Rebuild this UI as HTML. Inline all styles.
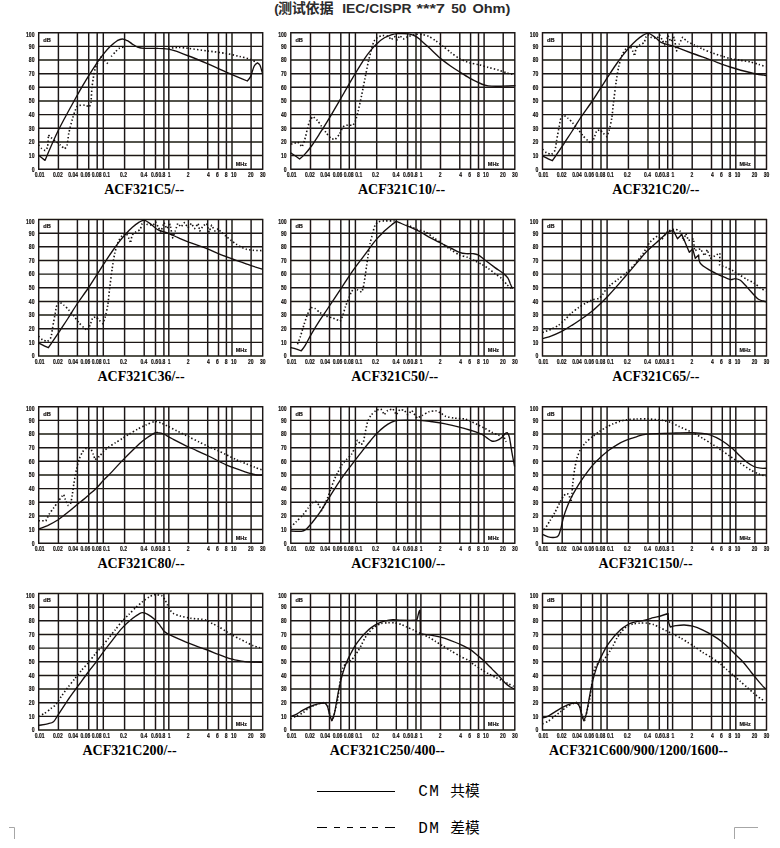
<!DOCTYPE html>
<html><head><meta charset="utf-8"><title>ACF321 insertion loss</title>
<style>
html,body{margin:0;padding:0;background:#fff;}
body{width:780px;height:848px;overflow:hidden;font-family:"Liberation Sans",sans-serif;}
svg{position:absolute;left:0;top:0;display:block}
.ax{font-family:"Liberation Sans",sans-serif;font-size:6.5px;fill:#15110f;font-weight:bold;stroke:#15110f;stroke-width:.18px}
.tt{font-family:"Liberation Serif",serif;font-weight:bold;font-size:14px;fill:#000}
.hd{font-family:"Liberation Sans","Noto Sans CJK SC",sans-serif;font-weight:bold;font-size:13.3px;fill:#2b2b2b}
.lg{font-family:"Liberation Mono","Noto Sans CJK SC",monospace;font-size:14px;fill:#000}
</style></head><body>
<svg width="780" height="848" viewBox="0 0 780 848">
<defs><filter id="b" x="-2%" y="-2%" width="104%" height="104%"><feGaussianBlur stdDeviation="0.5"/></filter></defs>
<rect width="780" height="848" fill="#fff"/>

<g filter="url(#b)">
<path d="M38.10 32.70H263.30M38.10 46.35H263.30M38.10 60.00H263.30M38.10 73.65H263.30M38.10 87.30H263.30M38.10 100.95H263.30M38.10 114.60H263.30M38.10 128.25H263.30M38.10 141.90H263.30M38.10 155.55H263.30M38.10 169.20H263.30M38.70 32.10V169.80M58.40 32.10V169.80M77.40 32.10V169.80M88.70 32.10V169.80M97.20 32.10V169.80M103.30 32.10V169.80M124.60 32.10V169.80M144.20 32.10V169.80M155.50 32.10V169.80M163.90 32.10V169.80M168.80 32.10V169.80M188.40 32.10V169.80M207.70 32.10V169.80M218.50 32.10V169.80M226.40 32.10V169.80M232.00 32.10V169.80M251.10 32.10V169.80M262.70 32.10V169.80" stroke="#1c1816" stroke-width="1.45" fill="none"/>
<text class="ax" text-anchor="end" transform="translate(34.5 36.7) scale(.78 1)">100</text>
<text class="ax" text-anchor="end" transform="translate(34.5 48.6) scale(.78 1)">90</text>
<text class="ax" text-anchor="end" transform="translate(34.5 62.3) scale(.78 1)">80</text>
<text class="ax" text-anchor="end" transform="translate(34.5 76.0) scale(.78 1)">70</text>
<text class="ax" text-anchor="end" transform="translate(34.5 89.6) scale(.78 1)">60</text>
<text class="ax" text-anchor="end" transform="translate(34.5 103.2) scale(.78 1)">50</text>
<text class="ax" text-anchor="end" transform="translate(34.5 116.9) scale(.78 1)">40</text>
<text class="ax" text-anchor="end" transform="translate(34.5 130.6) scale(.78 1)">30</text>
<text class="ax" text-anchor="end" transform="translate(34.5 144.2) scale(.78 1)">20</text>
<text class="ax" text-anchor="end" transform="translate(34.5 157.9) scale(.78 1)">10</text>
<text class="ax" text-anchor="end" transform="translate(34.5 171.5) scale(.78 1)">0</text>
<text class="ax" text-anchor="middle" transform="translate(39.6 176.7) scale(.77 1)">0.01</text>
<text class="ax" text-anchor="middle" transform="translate(57.8 176.7) scale(.77 1)">0.02</text>
<text class="ax" text-anchor="middle" transform="translate(73.2 176.7) scale(.77 1)">0.04</text>
<text class="ax" text-anchor="middle" transform="translate(85.4 176.7) scale(.77 1)">0.06</text>
<text class="ax" text-anchor="middle" transform="translate(96.6 176.7) scale(.77 1)">0.08</text>
<text class="ax" text-anchor="middle" transform="translate(106.6 176.7) scale(.77 1)">0.1</text>
<text class="ax" text-anchor="middle" transform="translate(123.5 176.7) scale(.77 1)">0.2</text>
<text class="ax" text-anchor="middle" transform="translate(143.9 176.7) scale(.77 1)">0.4</text>
<text class="ax" text-anchor="middle" transform="translate(154.6 176.7) scale(.77 1)">0.6</text>
<text class="ax" text-anchor="middle" transform="translate(161.9 176.7) scale(.77 1)">0.8</text>
<text class="ax" text-anchor="middle" transform="translate(169.1 176.7) scale(.77 1)">1</text>
<text class="ax" text-anchor="middle" transform="translate(188.1 176.7) scale(.77 1)">2</text>
<text class="ax" text-anchor="middle" transform="translate(208.5 176.7) scale(.77 1)">4</text>
<text class="ax" text-anchor="middle" transform="translate(217.5 176.7) scale(.77 1)">6</text>
<text class="ax" text-anchor="middle" transform="translate(226.2 176.7) scale(.77 1)">8</text>
<text class="ax" text-anchor="middle" transform="translate(233.8 176.7) scale(.77 1)">10</text>
<text class="ax" text-anchor="middle" transform="translate(250.8 176.7) scale(.77 1)">20</text>
<text class="ax" text-anchor="middle" transform="translate(262.8 176.7) scale(.77 1)">30</text>
<text class="ax" style="font-size:5.8px" transform="translate(43.3 41.5) scale(.98 1)">dB</text>
<text class="ax" style="font-size:6px" transform="translate(235.7 165.5) scale(.92 1)">MHz</text>
<path d="M38.6 155.3 C39.6 156.1 45.0 160.4 45.0 160.4 C45.0 160.4 53.6 140.0 58.6 129.8 C63.6 119.7 71.7 105.3 76.4 96.7 C81.2 88.2 84.9 81.9 88.3 76.4 C91.7 70.8 95.2 65.6 97.6 61.9 C100.1 58.3 101.6 56.3 103.6 53.8 C105.6 51.3 108.2 48.4 110.4 46.3 C112.6 44.2 115.3 41.9 117.2 40.7 C119.1 39.6 120.6 39.0 122.3 39.0 C123.9 39.0 125.7 39.9 127.4 40.7 C129.0 41.5 130.8 43.1 132.4 44.1 C134.1 45.1 135.6 46.3 137.5 47.0 C139.4 47.7 141.0 48.2 144.3 48.4 C147.6 48.6 154.3 48.2 158.2 48.4 C162.0 48.5 165.7 48.8 168.4 49.2 C171.1 49.6 171.9 49.8 175.2 50.9 C178.4 52.0 183.6 54.0 188.7 56.0 C193.9 58.0 201.4 61.1 207.4 63.6 C213.4 66.2 219.7 69.4 226.1 72.1 C232.5 74.9 247.3 81.0 247.3 81.0 C247.3 81.0 249.6 78.7 250.7 76.4 C251.8 74.0 253.0 68.4 254.1 66.2 C255.2 64.0 257.5 62.8 257.5 62.8 C257.5 62.8 259.2 63.6 260.0 65.3 C260.8 67.1 262.2 72.5 262.6 73.8" stroke="#15110f" stroke-width="1.35" fill="none" stroke-linejoin="round"/>
<path d="M38.6 145.1 C38.9 145.5 40.9 147.9 41.6 148.5 C42.4 149.2 45.0 150.5 45.0 150.5 C45.0 150.5 47.2 148.7 47.6 146.8 C48.0 144.9 48.4 134.9 48.4 134.9 C48.4 134.9 50.2 136.8 51.0 137.5 C51.8 138.2 54.1 140.0 55.2 140.9 C56.3 141.8 59.2 144.2 60.3 145.1 C61.4 146.1 64.6 148.8 64.6 148.8 C64.6 148.8 66.6 147.0 67.1 145.1 C67.6 143.2 68.2 136.3 68.8 133.2 C69.4 130.2 71.4 122.5 72.2 119.7 C73.0 116.8 74.9 111.1 75.6 109.5 C76.3 107.8 77.0 106.2 78.1 105.7 C79.3 105.2 83.6 105.1 84.9 105.2 C86.2 105.4 89.2 106.9 89.2 106.9 C89.2 106.9 90.5 105.0 90.9 102.7 C91.2 100.3 91.7 90.7 92.0 87.4 C92.4 84.1 93.3 77.9 93.7 75.5 C94.2 73.2 94.8 69.8 95.4 67.9 C96.1 66.0 98.6 60.8 99.3 59.4 C100.1 58.0 101.6 56.4 101.9 56.0" stroke="#15110f" stroke-width="1.6" fill="none" stroke-dasharray="1.4 2.2" stroke-linejoin="round"/>
<path d="M104.4 60.2 L107.8 63.6" stroke="#15110f" stroke-width="1.6" fill="none" stroke-dasharray="1.4 2.2" stroke-linejoin="round"/>
<path d="M111.2 56.5 C111.7 55.9 114.5 52.8 115.5 51.8 C116.5 50.7 118.7 48.6 119.7 48.0 C120.7 47.5 123.4 47.1 124.0 47.0" stroke="#15110f" stroke-width="1.6" fill="none" stroke-dasharray="1.4 2.2" stroke-linejoin="round"/>
<path d="M168.4 48.4 C169.6 48.3 176.1 47.5 178.6 47.5 C181.0 47.5 185.3 48.0 188.7 48.4 C192.2 48.8 202.9 50.3 207.4 50.9 C211.9 51.5 222.2 52.8 226.1 53.5 C229.9 54.1 236.8 55.8 239.7 56.5 C242.5 57.2 247.9 58.4 249.8 59.1 C251.8 59.7 255.1 61.6 255.8 61.9" stroke="#15110f" stroke-width="1.6" fill="none" stroke-dasharray="1.4 2.2" stroke-linejoin="round"/>
</g>
<text class="tt" x="104.2" y="193.8">ACF321C5/--</text>
<g filter="url(#b)">
<path d="M290.20 32.70H515.40M290.20 46.35H515.40M290.20 60.00H515.40M290.20 73.65H515.40M290.20 87.30H515.40M290.20 100.95H515.40M290.20 114.60H515.40M290.20 128.25H515.40M290.20 141.90H515.40M290.20 155.55H515.40M290.20 169.20H515.40M290.80 32.10V169.80M310.50 32.10V169.80M329.50 32.10V169.80M340.80 32.10V169.80M349.30 32.10V169.80M355.40 32.10V169.80M376.70 32.10V169.80M396.30 32.10V169.80M407.60 32.10V169.80M416.00 32.10V169.80M420.90 32.10V169.80M440.50 32.10V169.80M459.80 32.10V169.80M470.60 32.10V169.80M478.50 32.10V169.80M484.10 32.10V169.80M503.20 32.10V169.80M514.80 32.10V169.80" stroke="#1c1816" stroke-width="1.45" fill="none"/>
<text class="ax" text-anchor="end" transform="translate(286.6 36.7) scale(.78 1)">100</text>
<text class="ax" text-anchor="end" transform="translate(286.6 48.6) scale(.78 1)">90</text>
<text class="ax" text-anchor="end" transform="translate(286.6 62.3) scale(.78 1)">80</text>
<text class="ax" text-anchor="end" transform="translate(286.6 76.0) scale(.78 1)">70</text>
<text class="ax" text-anchor="end" transform="translate(286.6 89.6) scale(.78 1)">60</text>
<text class="ax" text-anchor="end" transform="translate(286.6 103.2) scale(.78 1)">50</text>
<text class="ax" text-anchor="end" transform="translate(286.6 116.9) scale(.78 1)">40</text>
<text class="ax" text-anchor="end" transform="translate(286.6 130.6) scale(.78 1)">30</text>
<text class="ax" text-anchor="end" transform="translate(286.6 144.2) scale(.78 1)">20</text>
<text class="ax" text-anchor="end" transform="translate(286.6 157.9) scale(.78 1)">10</text>
<text class="ax" text-anchor="end" transform="translate(286.6 171.5) scale(.78 1)">0</text>
<text class="ax" text-anchor="middle" transform="translate(291.7 176.7) scale(.77 1)">0.01</text>
<text class="ax" text-anchor="middle" transform="translate(309.9 176.7) scale(.77 1)">0.02</text>
<text class="ax" text-anchor="middle" transform="translate(325.2 176.7) scale(.77 1)">0.04</text>
<text class="ax" text-anchor="middle" transform="translate(337.5 176.7) scale(.77 1)">0.06</text>
<text class="ax" text-anchor="middle" transform="translate(348.7 176.7) scale(.77 1)">0.08</text>
<text class="ax" text-anchor="middle" transform="translate(358.7 176.7) scale(.77 1)">0.1</text>
<text class="ax" text-anchor="middle" transform="translate(375.6 176.7) scale(.77 1)">0.2</text>
<text class="ax" text-anchor="middle" transform="translate(396.0 176.7) scale(.77 1)">0.4</text>
<text class="ax" text-anchor="middle" transform="translate(406.6 176.7) scale(.77 1)">0.6</text>
<text class="ax" text-anchor="middle" transform="translate(414.1 176.7) scale(.77 1)">0.8</text>
<text class="ax" text-anchor="middle" transform="translate(421.2 176.7) scale(.77 1)">1</text>
<text class="ax" text-anchor="middle" transform="translate(440.2 176.7) scale(.77 1)">2</text>
<text class="ax" text-anchor="middle" transform="translate(460.6 176.7) scale(.77 1)">4</text>
<text class="ax" text-anchor="middle" transform="translate(469.6 176.7) scale(.77 1)">6</text>
<text class="ax" text-anchor="middle" transform="translate(478.3 176.7) scale(.77 1)">8</text>
<text class="ax" text-anchor="middle" transform="translate(485.9 176.7) scale(.77 1)">10</text>
<text class="ax" text-anchor="middle" transform="translate(502.9 176.7) scale(.77 1)">20</text>
<text class="ax" text-anchor="middle" transform="translate(514.9 176.7) scale(.77 1)">30</text>
<text class="ax" style="font-size:5.8px" transform="translate(295.4 41.5) scale(.98 1)">dB</text>
<text class="ax" style="font-size:6px" transform="translate(487.8 165.5) scale(.92 1)">MHz</text>
<path d="M290.6 152.8 C292.0 153.8 299.6 159.0 299.6 159.0 C299.6 159.0 302.8 156.5 304.7 154.4 C306.6 152.4 309.0 149.4 311.5 146.0 C313.9 142.6 317.2 137.4 319.9 133.2 C322.7 129.0 325.2 125.1 328.4 119.7 C331.7 114.2 336.9 105.1 340.3 99.3 C343.7 93.4 347.2 87.4 349.6 83.2 C352.1 79.0 353.3 76.8 355.6 73.0 C357.9 69.2 361.6 63.1 364.1 59.4 C366.5 55.7 368.7 52.7 370.9 50.1 C373.0 47.4 375.5 44.9 377.7 42.9 C379.8 41.0 382.3 39.1 384.4 37.8 C386.6 36.5 389.1 35.5 391.2 34.8 C393.4 34.1 395.3 33.7 398.0 33.6 C400.8 33.5 405.7 33.5 408.5 33.9 C411.2 34.3 413.4 35.2 415.3 36.1 C417.2 37.1 418.2 38.1 420.4 39.9 C422.5 41.7 425.6 44.5 428.9 47.5 C432.1 50.5 437.2 55.6 440.7 58.6 C444.3 61.5 447.9 64.1 450.9 66.2 C453.9 68.3 456.4 69.9 459.4 71.8 C462.4 73.7 466.6 76.4 469.6 78.1 C472.6 79.8 475.6 81.2 478.1 82.3 C480.5 83.5 482.7 84.6 484.9 85.2 C487.0 85.8 488.9 86.1 491.7 86.2 C494.4 86.4 498.0 86.3 501.8 86.2 C505.6 86.1 513.2 85.8 515.4 85.7" stroke="#15110f" stroke-width="1.35" fill="none" stroke-linejoin="round"/>
<path d="M291.1 144.3 C291.9 144.0 297.9 142.1 297.9 142.1 C297.9 142.1 302.1 146.8 302.1 146.8 C302.1 146.8 304.1 142.1 304.7 140.0 C305.3 138.0 306.6 132.2 307.2 129.8 C307.8 127.5 309.0 122.1 309.8 120.5 C310.5 118.9 313.2 116.6 313.2 116.6 C313.2 116.6 316.4 119.3 317.4 120.5 C318.4 121.7 320.6 125.0 321.6 126.4 C322.7 127.9 324.8 131.0 325.9 132.4 C327.0 133.8 329.9 137.5 331.0 138.3 C332.1 139.2 335.2 139.5 335.2 139.5 C335.2 139.5 338.5 135.5 339.5 134.1 C340.4 132.6 342.0 128.4 342.9 127.3 C343.7 126.2 345.0 125.5 346.3 125.3 C347.5 125.0 353.0 125.3 353.0 125.3 C353.0 125.3 355.0 122.2 355.6 120.5 C356.2 118.8 357.4 114.1 358.1 111.2 C358.8 108.2 360.7 99.8 361.5 95.9 C362.3 92.0 364.1 83.0 364.9 78.9 C365.7 74.8 367.5 65.6 368.3 61.9 C369.1 58.3 371.0 50.9 371.7 48.4 C372.4 45.8 373.5 42.1 374.3 40.7 C375.0 39.4 376.6 37.9 377.7 37.3 C378.7 36.7 381.5 35.8 382.7 35.6 C384.0 35.5 386.8 35.6 387.8 36.1 C388.9 36.7 391.2 39.9 391.2 39.9 C391.2 39.9 394.6 36.5 394.6 36.5 C394.6 36.5 397.2 39.9 397.2 39.9 C397.2 39.9 399.7 35.6 399.7 35.6 C399.7 35.6 403.4 39.0 403.4 39.0 C403.4 39.0 407.1 37.0 408.5 36.5 C409.9 35.9 413.6 34.7 415.3 34.4 C416.9 34.2 420.4 34.2 422.1 34.4 C423.7 34.7 427.2 35.7 428.9 36.5 C430.5 37.2 434.0 39.6 435.6 40.7 C437.3 41.9 440.6 44.4 442.4 45.8 C444.3 47.2 448.9 51.1 450.9 52.6 C453.0 54.1 457.2 57.3 459.4 58.6 C461.6 59.8 467.3 62.1 469.6 62.8 C471.8 63.5 475.8 63.9 478.1 64.5 C480.3 65.0 485.8 66.7 488.3 67.4 C490.7 68.0 496.2 69.4 498.4 70.1 C500.7 70.8 505.0 72.4 506.9 73.0 C508.9 73.5 513.7 74.5 514.6 74.7" stroke="#15110f" stroke-width="1.6" fill="none" stroke-dasharray="1.4 2.2" stroke-linejoin="round"/>
</g>
<text class="tt" x="358.0" y="193.8">ACF321C10/--</text>
<g filter="url(#b)">
<path d="M541.90 32.70H767.10M541.90 46.35H767.10M541.90 60.00H767.10M541.90 73.65H767.10M541.90 87.30H767.10M541.90 100.95H767.10M541.90 114.60H767.10M541.90 128.25H767.10M541.90 141.90H767.10M541.90 155.55H767.10M541.90 169.20H767.10M542.50 32.10V169.80M562.20 32.10V169.80M581.20 32.10V169.80M592.50 32.10V169.80M601.00 32.10V169.80M607.10 32.10V169.80M628.40 32.10V169.80M648.00 32.10V169.80M659.30 32.10V169.80M667.70 32.10V169.80M672.60 32.10V169.80M692.20 32.10V169.80M711.50 32.10V169.80M722.30 32.10V169.80M730.20 32.10V169.80M735.80 32.10V169.80M754.90 32.10V169.80M766.50 32.10V169.80" stroke="#1c1816" stroke-width="1.45" fill="none"/>
<text class="ax" text-anchor="end" transform="translate(538.3 36.7) scale(.78 1)">100</text>
<text class="ax" text-anchor="end" transform="translate(538.3 48.6) scale(.78 1)">90</text>
<text class="ax" text-anchor="end" transform="translate(538.3 62.3) scale(.78 1)">80</text>
<text class="ax" text-anchor="end" transform="translate(538.3 76.0) scale(.78 1)">70</text>
<text class="ax" text-anchor="end" transform="translate(538.3 89.6) scale(.78 1)">60</text>
<text class="ax" text-anchor="end" transform="translate(538.3 103.2) scale(.78 1)">50</text>
<text class="ax" text-anchor="end" transform="translate(538.3 116.9) scale(.78 1)">40</text>
<text class="ax" text-anchor="end" transform="translate(538.3 130.6) scale(.78 1)">30</text>
<text class="ax" text-anchor="end" transform="translate(538.3 144.2) scale(.78 1)">20</text>
<text class="ax" text-anchor="end" transform="translate(538.3 157.9) scale(.78 1)">10</text>
<text class="ax" text-anchor="end" transform="translate(538.3 171.5) scale(.78 1)">0</text>
<text class="ax" text-anchor="middle" transform="translate(543.4 176.7) scale(.77 1)">0.01</text>
<text class="ax" text-anchor="middle" transform="translate(561.6 176.7) scale(.77 1)">0.02</text>
<text class="ax" text-anchor="middle" transform="translate(577.0 176.7) scale(.77 1)">0.04</text>
<text class="ax" text-anchor="middle" transform="translate(589.2 176.7) scale(.77 1)">0.06</text>
<text class="ax" text-anchor="middle" transform="translate(600.4 176.7) scale(.77 1)">0.08</text>
<text class="ax" text-anchor="middle" transform="translate(610.4 176.7) scale(.77 1)">0.1</text>
<text class="ax" text-anchor="middle" transform="translate(627.2 176.7) scale(.77 1)">0.2</text>
<text class="ax" text-anchor="middle" transform="translate(647.6 176.7) scale(.77 1)">0.4</text>
<text class="ax" text-anchor="middle" transform="translate(658.4 176.7) scale(.77 1)">0.6</text>
<text class="ax" text-anchor="middle" transform="translate(665.8 176.7) scale(.77 1)">0.8</text>
<text class="ax" text-anchor="middle" transform="translate(672.9 176.7) scale(.77 1)">1</text>
<text class="ax" text-anchor="middle" transform="translate(691.9 176.7) scale(.77 1)">2</text>
<text class="ax" text-anchor="middle" transform="translate(712.3 176.7) scale(.77 1)">4</text>
<text class="ax" text-anchor="middle" transform="translate(721.3 176.7) scale(.77 1)">6</text>
<text class="ax" text-anchor="middle" transform="translate(730.0 176.7) scale(.77 1)">8</text>
<text class="ax" text-anchor="middle" transform="translate(737.6 176.7) scale(.77 1)">10</text>
<text class="ax" text-anchor="middle" transform="translate(754.6 176.7) scale(.77 1)">20</text>
<text class="ax" text-anchor="middle" transform="translate(766.6 176.7) scale(.77 1)">30</text>
<text class="ax" style="font-size:5.8px" transform="translate(547.1 41.5) scale(.98 1)">dB</text>
<text class="ax" style="font-size:6px" transform="translate(739.5 165.5) scale(.92 1)">MHz</text>
<path d="M542.6 156.1 C544.2 156.9 552.4 160.7 552.4 160.7 C552.4 160.7 554.9 157.1 556.7 154.4 C558.4 151.8 561.0 147.9 563.5 144.3 C565.9 140.6 569.2 135.7 571.9 131.5 C574.7 127.3 577.2 122.8 580.4 118.0 C583.7 113.1 588.9 106.0 592.3 101.0 C595.7 96.0 599.2 90.4 601.6 86.6 C604.1 82.8 605.3 80.8 607.6 77.2 C609.9 73.7 613.6 68.0 616.1 64.5 C618.5 61.0 620.7 58.0 622.9 55.2 C625.0 52.4 627.5 49.4 629.7 47.0 C631.8 44.6 634.3 42.1 636.4 40.2 C638.6 38.3 641.3 36.3 643.2 35.1 C645.1 34.0 646.7 32.9 648.3 33.1 C650.0 33.3 652.0 35.2 653.4 36.1 C654.8 37.1 655.7 37.9 657.1 39.0 C658.5 40.1 659.7 41.9 662.2 42.9 C664.6 44.0 669.1 44.7 672.4 45.8 C675.6 46.9 679.3 48.5 682.6 49.7 C685.8 50.9 688.1 51.8 692.7 53.5 C697.4 55.1 705.4 58.1 711.4 60.2 C717.4 62.4 723.3 64.9 730.1 67.0 C736.9 69.2 748.0 72.1 753.8 73.5 C759.7 74.8 764.5 75.2 766.6 75.5" stroke="#15110f" stroke-width="1.35" fill="none" stroke-linejoin="round"/>
<path d="M542.6 149.4 C543.1 149.8 545.4 152.1 546.5 152.8 C547.6 153.4 551.6 154.4 551.6 154.4 C551.6 154.4 554.4 151.9 555.0 150.2 C555.6 148.5 556.2 142.9 556.7 140.0 C557.2 137.2 558.7 129.1 559.2 126.4 C559.7 123.8 560.4 119.3 560.9 118.0 C561.4 116.6 563.5 114.9 563.5 114.9 C563.5 114.9 566.6 117.0 567.7 118.0 C568.8 118.9 571.6 121.7 572.8 123.0 C574.0 124.4 576.7 127.5 577.9 129.0 C579.1 130.5 581.8 134.4 583.0 135.8 C584.2 137.2 587.1 140.0 588.1 140.9 C589.1 141.8 591.5 143.4 591.5 143.4 C591.5 143.4 593.4 139.9 594.0 138.3 C594.6 136.8 596.6 130.7 596.6 130.7 C596.6 130.7 600.0 129.8 600.0 129.8 C600.0 129.8 602.5 132.4 603.3 133.2 C604.2 134.0 606.7 136.6 606.7 136.6 C606.7 136.6 608.7 132.1 609.3 129.8 C609.9 127.6 611.3 121.2 611.8 118.0 C612.3 114.7 613.0 107.0 613.5 102.7 C614.0 98.4 615.5 86.6 616.1 82.3 C616.7 78.0 617.9 70.3 618.6 67.0 C619.3 63.8 621.1 57.4 622.0 55.2 C622.9 52.9 625.2 49.4 626.3 48.4 C627.3 47.3 630.5 46.7 630.5 46.7 C630.5 46.7 632.5 50.6 633.0 51.8 C633.6 52.9 634.7 56.0 634.7 56.0 C634.7 56.0 635.5 49.7 636.1 48.4 C636.7 47.0 638.9 45.7 639.8 45.0 C640.8 44.3 643.4 43.3 644.1 42.4 C644.8 41.5 645.3 38.3 645.8 37.3 C646.3 36.4 648.3 34.8 648.3 34.8 C648.3 34.8 649.8 36.9 650.9 37.3 C651.9 37.7 657.1 38.2 657.1 38.2 C657.1 38.2 659.6 34.8 659.6 34.8 C659.6 34.8 661.6 38.7 662.2 39.9 C662.8 41.1 664.7 45.0 664.7 45.0 C664.7 45.0 668.1 35.6 668.1 35.6 C668.1 35.6 670.7 41.6 670.7 41.6 C670.7 41.6 674.1 37.3 674.1 37.3 C674.1 37.3 676.6 50.9 676.6 50.9 C676.6 50.9 678.4 45.8 679.2 44.1 C679.9 42.5 682.6 37.3 682.6 37.3 C682.6 37.3 686.2 40.7 687.6 41.6 C689.1 42.5 692.6 44.1 694.4 45.0 C696.3 45.9 700.9 48.3 702.9 49.2 C705.0 50.1 709.2 51.8 711.4 52.6 C713.6 53.4 719.3 55.3 721.6 56.0 C723.8 56.7 727.8 58.0 730.1 58.6 C732.3 59.1 737.8 59.8 740.3 60.2 C742.7 60.7 748.2 61.4 750.4 61.9 C752.7 62.5 757.1 63.9 758.9 64.5 C760.8 65.1 764.9 66.4 765.7 66.7" stroke="#15110f" stroke-width="1.6" fill="none" stroke-dasharray="1.4 2.2" stroke-linejoin="round"/>
</g>
<text class="tt" x="612.3" y="193.8">ACF321C20/--</text>
<g filter="url(#b)">
<path d="M38.10 219.50H263.30M38.10 233.15H263.30M38.10 246.80H263.30M38.10 260.45H263.30M38.10 274.10H263.30M38.10 287.75H263.30M38.10 301.40H263.30M38.10 315.05H263.30M38.10 328.70H263.30M38.10 342.35H263.30M38.10 356.00H263.30M38.70 218.90V356.60M58.40 218.90V356.60M77.40 218.90V356.60M88.70 218.90V356.60M97.20 218.90V356.60M103.30 218.90V356.60M124.60 218.90V356.60M144.20 218.90V356.60M155.50 218.90V356.60M163.90 218.90V356.60M168.80 218.90V356.60M188.40 218.90V356.60M207.70 218.90V356.60M218.50 218.90V356.60M226.40 218.90V356.60M232.00 218.90V356.60M251.10 218.90V356.60M262.70 218.90V356.60" stroke="#1c1816" stroke-width="1.45" fill="none"/>
<text class="ax" text-anchor="end" transform="translate(34.5 223.5) scale(.78 1)">100</text>
<text class="ax" text-anchor="end" transform="translate(34.5 235.5) scale(.78 1)">90</text>
<text class="ax" text-anchor="end" transform="translate(34.5 249.1) scale(.78 1)">80</text>
<text class="ax" text-anchor="end" transform="translate(34.5 262.8) scale(.78 1)">70</text>
<text class="ax" text-anchor="end" transform="translate(34.5 276.4) scale(.78 1)">60</text>
<text class="ax" text-anchor="end" transform="translate(34.5 290.1) scale(.78 1)">50</text>
<text class="ax" text-anchor="end" transform="translate(34.5 303.7) scale(.78 1)">40</text>
<text class="ax" text-anchor="end" transform="translate(34.5 317.4) scale(.78 1)">30</text>
<text class="ax" text-anchor="end" transform="translate(34.5 331.0) scale(.78 1)">20</text>
<text class="ax" text-anchor="end" transform="translate(34.5 344.7) scale(.78 1)">10</text>
<text class="ax" text-anchor="end" transform="translate(34.5 358.3) scale(.78 1)">0</text>
<text class="ax" text-anchor="middle" transform="translate(39.6 363.5) scale(.77 1)">0.01</text>
<text class="ax" text-anchor="middle" transform="translate(57.8 363.5) scale(.77 1)">0.02</text>
<text class="ax" text-anchor="middle" transform="translate(73.2 363.5) scale(.77 1)">0.04</text>
<text class="ax" text-anchor="middle" transform="translate(85.4 363.5) scale(.77 1)">0.06</text>
<text class="ax" text-anchor="middle" transform="translate(96.6 363.5) scale(.77 1)">0.08</text>
<text class="ax" text-anchor="middle" transform="translate(106.6 363.5) scale(.77 1)">0.1</text>
<text class="ax" text-anchor="middle" transform="translate(123.5 363.5) scale(.77 1)">0.2</text>
<text class="ax" text-anchor="middle" transform="translate(143.9 363.5) scale(.77 1)">0.4</text>
<text class="ax" text-anchor="middle" transform="translate(154.6 363.5) scale(.77 1)">0.6</text>
<text class="ax" text-anchor="middle" transform="translate(161.9 363.5) scale(.77 1)">0.8</text>
<text class="ax" text-anchor="middle" transform="translate(169.1 363.5) scale(.77 1)">1</text>
<text class="ax" text-anchor="middle" transform="translate(188.1 363.5) scale(.77 1)">2</text>
<text class="ax" text-anchor="middle" transform="translate(208.5 363.5) scale(.77 1)">4</text>
<text class="ax" text-anchor="middle" transform="translate(217.5 363.5) scale(.77 1)">6</text>
<text class="ax" text-anchor="middle" transform="translate(226.2 363.5) scale(.77 1)">8</text>
<text class="ax" text-anchor="middle" transform="translate(233.8 363.5) scale(.77 1)">10</text>
<text class="ax" text-anchor="middle" transform="translate(250.8 363.5) scale(.77 1)">20</text>
<text class="ax" text-anchor="middle" transform="translate(262.8 363.5) scale(.77 1)">30</text>
<text class="ax" style="font-size:5.8px" transform="translate(43.3 228.3) scale(.98 1)">dB</text>
<text class="ax" style="font-size:6px" transform="translate(235.7 352.3) scale(.92 1)">MHz</text>
<path d="M38.6 343.1 C40.2 343.9 48.4 347.7 48.4 347.7 C48.4 347.7 50.9 344.1 52.7 341.4 C54.4 338.8 57.0 334.9 59.5 331.3 C61.9 327.6 65.2 322.7 67.9 318.5 C70.7 314.3 73.2 309.8 76.4 305.0 C79.7 300.1 84.9 293.0 88.3 288.0 C91.7 283.0 95.2 277.4 97.6 273.6 C100.1 269.8 101.3 267.8 103.6 264.2 C105.9 260.7 109.6 255.0 112.1 251.5 C114.5 248.0 116.7 245.0 118.9 242.2 C121.0 239.4 123.5 236.4 125.7 234.0 C127.8 231.6 130.3 229.1 132.4 227.2 C134.6 225.3 137.3 223.3 139.2 222.1 C141.1 221.0 142.7 219.9 144.3 220.1 C146.0 220.3 148.0 222.2 149.4 223.1 C150.8 224.1 151.7 224.9 153.1 226.0 C154.5 227.1 155.7 228.8 158.2 229.9 C160.6 231.1 165.1 232.1 168.4 233.3 C171.6 234.6 175.3 236.5 178.6 237.9 C181.8 239.3 184.1 240.4 188.7 242.2 C193.4 243.9 201.4 246.6 207.4 248.9 C213.4 251.3 219.3 254.0 226.1 256.6 C232.9 259.2 244.0 263.0 249.8 265.1 C255.7 267.1 260.5 268.6 262.6 269.3" stroke="#15110f" stroke-width="1.35" fill="none" stroke-linejoin="round"/>
<path d="M38.6 336.4 C39.1 336.8 41.4 339.1 42.5 339.8 C43.6 340.4 47.6 341.4 47.6 341.4 C47.6 341.4 50.4 338.9 51.0 337.2 C51.6 335.5 52.2 329.9 52.7 327.0 C53.2 324.2 54.7 316.1 55.2 313.4 C55.7 310.8 56.4 306.3 56.9 305.0 C57.4 303.6 59.5 301.9 59.5 301.9 C59.5 301.9 62.6 304.0 63.7 305.0 C64.8 305.9 67.6 308.7 68.8 310.0 C70.0 311.4 72.7 314.5 73.9 316.0 C75.1 317.5 77.8 321.4 79.0 322.8 C80.2 324.2 83.1 327.0 84.1 327.9 C85.1 328.8 87.5 330.4 87.5 330.4 C87.5 330.4 89.4 326.9 90.0 325.3 C90.6 323.8 92.6 317.7 92.6 317.7 C92.6 317.7 96.0 316.8 96.0 316.8 C96.0 316.8 98.5 319.4 99.3 320.2 C100.2 321.0 102.7 323.6 102.7 323.6 C102.7 323.6 104.7 319.1 105.3 316.8 C105.9 314.6 107.3 308.2 107.8 305.0 C108.3 301.7 109.0 294.0 109.5 289.7 C110.0 285.4 111.5 273.6 112.1 269.3 C112.7 265.0 113.9 257.3 114.6 254.0 C115.3 250.8 117.1 244.4 118.0 242.2 C118.9 239.9 121.2 236.4 122.3 235.4 C123.3 234.3 126.5 233.7 126.5 233.7 C126.5 233.7 128.5 237.6 129.0 238.8 C129.6 239.9 130.7 243.0 130.7 243.0 C130.7 243.0 131.5 236.7 132.1 235.4 C132.7 234.0 134.9 232.7 135.8 232.0 C136.8 231.3 139.4 230.3 140.1 229.4 C140.8 228.5 141.3 225.3 141.8 224.3 C142.3 223.4 144.3 221.8 144.3 221.8 C144.3 221.8 145.8 223.9 146.9 224.3 C147.9 224.7 153.1 225.2 153.1 225.2 C153.1 225.2 155.6 221.8 155.6 221.8 C155.6 221.8 157.6 225.7 158.2 226.9 C158.8 228.1 160.7 232.0 160.7 232.0 C160.7 232.0 164.1 222.6 164.1 222.6 C164.1 222.6 166.7 228.6 166.7 228.6 C166.7 228.6 170.1 224.3 170.1 224.3 C170.1 224.3 172.6 237.9 172.6 237.9 C172.6 237.9 174.5 232.9 175.2 231.1 C175.8 229.4 177.7 223.5 177.7 223.5 C177.7 223.5 181.1 226.9 181.1 226.9 C181.1 226.9 184.5 222.6 184.5 222.6 C184.5 222.6 187.9 227.7 187.9 227.7 C187.9 227.7 191.3 223.5 191.3 223.5 C191.3 223.5 194.7 228.6 194.7 228.6 C194.7 228.6 198.1 223.5 198.1 223.5 C198.1 223.5 199.8 231.1 199.8 231.1 C199.8 231.1 202.3 226.9 203.2 226.0 C204.0 225.1 206.6 223.5 206.6 223.5 C206.6 223.5 209.1 232.0 209.1 232.0 C209.1 232.0 211.6 225.2 211.6 225.2 C211.6 225.2 215.0 231.1 215.0 231.1 C215.0 231.1 218.4 228.6 218.4 228.6 C218.4 228.6 220.1 231.1 221.0 232.0 C221.9 232.9 224.9 235.2 226.1 236.2 C227.3 237.2 229.9 239.5 231.2 240.5 C232.4 241.4 235.0 243.4 236.3 244.2 C237.5 245.0 240.1 246.6 241.4 247.2 C242.6 247.9 245.0 248.9 246.4 249.3 C247.9 249.7 251.3 250.1 253.2 250.3 C255.2 250.5 261.4 250.6 262.6 250.6" stroke="#15110f" stroke-width="1.6" fill="none" stroke-dasharray="1.4 2.2" stroke-linejoin="round"/>
</g>
<text class="tt" x="97.5" y="380.6">ACF321C36/--</text>
<g filter="url(#b)">
<path d="M290.20 219.50H515.40M290.20 233.15H515.40M290.20 246.80H515.40M290.20 260.45H515.40M290.20 274.10H515.40M290.20 287.75H515.40M290.20 301.40H515.40M290.20 315.05H515.40M290.20 328.70H515.40M290.20 342.35H515.40M290.20 356.00H515.40M290.80 218.90V356.60M310.50 218.90V356.60M329.50 218.90V356.60M340.80 218.90V356.60M349.30 218.90V356.60M355.40 218.90V356.60M376.70 218.90V356.60M396.30 218.90V356.60M407.60 218.90V356.60M416.00 218.90V356.60M420.90 218.90V356.60M440.50 218.90V356.60M459.80 218.90V356.60M470.60 218.90V356.60M478.50 218.90V356.60M484.10 218.90V356.60M503.20 218.90V356.60M514.80 218.90V356.60" stroke="#1c1816" stroke-width="1.45" fill="none"/>
<text class="ax" text-anchor="end" transform="translate(286.6 223.5) scale(.78 1)">100</text>
<text class="ax" text-anchor="end" transform="translate(286.6 235.5) scale(.78 1)">90</text>
<text class="ax" text-anchor="end" transform="translate(286.6 249.1) scale(.78 1)">80</text>
<text class="ax" text-anchor="end" transform="translate(286.6 262.8) scale(.78 1)">70</text>
<text class="ax" text-anchor="end" transform="translate(286.6 276.4) scale(.78 1)">60</text>
<text class="ax" text-anchor="end" transform="translate(286.6 290.1) scale(.78 1)">50</text>
<text class="ax" text-anchor="end" transform="translate(286.6 303.7) scale(.78 1)">40</text>
<text class="ax" text-anchor="end" transform="translate(286.6 317.4) scale(.78 1)">30</text>
<text class="ax" text-anchor="end" transform="translate(286.6 331.0) scale(.78 1)">20</text>
<text class="ax" text-anchor="end" transform="translate(286.6 344.7) scale(.78 1)">10</text>
<text class="ax" text-anchor="end" transform="translate(286.6 358.3) scale(.78 1)">0</text>
<text class="ax" text-anchor="middle" transform="translate(291.7 363.5) scale(.77 1)">0.01</text>
<text class="ax" text-anchor="middle" transform="translate(309.9 363.5) scale(.77 1)">0.02</text>
<text class="ax" text-anchor="middle" transform="translate(325.2 363.5) scale(.77 1)">0.04</text>
<text class="ax" text-anchor="middle" transform="translate(337.5 363.5) scale(.77 1)">0.06</text>
<text class="ax" text-anchor="middle" transform="translate(348.7 363.5) scale(.77 1)">0.08</text>
<text class="ax" text-anchor="middle" transform="translate(358.7 363.5) scale(.77 1)">0.1</text>
<text class="ax" text-anchor="middle" transform="translate(375.6 363.5) scale(.77 1)">0.2</text>
<text class="ax" text-anchor="middle" transform="translate(396.0 363.5) scale(.77 1)">0.4</text>
<text class="ax" text-anchor="middle" transform="translate(406.6 363.5) scale(.77 1)">0.6</text>
<text class="ax" text-anchor="middle" transform="translate(414.1 363.5) scale(.77 1)">0.8</text>
<text class="ax" text-anchor="middle" transform="translate(421.2 363.5) scale(.77 1)">1</text>
<text class="ax" text-anchor="middle" transform="translate(440.2 363.5) scale(.77 1)">2</text>
<text class="ax" text-anchor="middle" transform="translate(460.6 363.5) scale(.77 1)">4</text>
<text class="ax" text-anchor="middle" transform="translate(469.6 363.5) scale(.77 1)">6</text>
<text class="ax" text-anchor="middle" transform="translate(478.3 363.5) scale(.77 1)">8</text>
<text class="ax" text-anchor="middle" transform="translate(485.9 363.5) scale(.77 1)">10</text>
<text class="ax" text-anchor="middle" transform="translate(502.9 363.5) scale(.77 1)">20</text>
<text class="ax" text-anchor="middle" transform="translate(514.9 363.5) scale(.77 1)">30</text>
<text class="ax" style="font-size:5.8px" transform="translate(295.4 228.3) scale(.98 1)">dB</text>
<text class="ax" style="font-size:6px" transform="translate(487.8 352.3) scale(.92 1)">MHz</text>
<path d="M290.6 347.4 C292.3 347.9 301.3 350.8 301.3 350.8 C301.3 350.8 303.9 347.6 305.5 344.8 C307.1 342.1 309.2 337.7 311.5 333.8 C313.8 329.9 317.2 324.4 319.9 320.2 C322.7 316.0 325.2 312.4 328.4 307.5 C331.7 302.6 336.9 294.8 340.3 289.7 C343.7 284.5 347.2 278.9 349.6 275.3 C352.1 271.6 353.3 269.9 355.6 266.8 C357.9 263.6 361.6 259.0 364.1 255.7 C366.5 252.5 368.7 249.3 370.9 246.4 C373.0 243.5 375.5 240.4 377.7 237.9 C379.8 235.5 382.3 233.2 384.4 231.1 C386.6 229.1 389.3 226.7 391.2 225.2 C393.1 223.6 396.3 221.4 396.3 221.4 C396.3 221.4 399.2 222.6 401.4 223.5 C403.6 224.4 407.2 225.9 410.2 227.2 C413.2 228.6 417.1 230.3 420.4 232.0 C423.6 233.7 427.3 236.1 430.6 237.9 C433.8 239.7 437.5 241.4 440.7 243.0 C444.0 244.6 447.9 246.6 450.9 248.1 C453.9 249.6 457.0 251.4 459.4 252.3 C461.9 253.2 464.0 253.5 466.2 253.7 C468.4 253.9 471.1 253.5 473.0 253.7 C474.9 253.9 476.2 253.9 478.1 254.9 C480.0 255.9 482.1 257.9 484.9 260.0 C487.6 262.0 492.1 265.4 495.0 267.6 C498.0 269.8 501.5 271.9 503.5 273.6 C505.6 275.2 506.7 276.2 507.8 277.8 C508.9 279.4 509.6 282.0 510.3 283.7 C511.1 285.5 512.2 288.0 512.5 288.8" stroke="#15110f" stroke-width="1.35" fill="none" stroke-linejoin="round"/>
<path d="M297.5 344.3 C297.9 343.4 299.7 338.6 300.4 336.4 C301.2 334.1 303.0 327.9 303.8 325.3 C304.6 322.8 306.4 317.3 307.2 315.1 C308.0 313.0 310.6 307.5 310.6 307.5 C310.6 307.5 313.7 307.7 314.9 308.4 C316.0 309.0 318.6 311.7 319.9 312.6 C321.3 313.5 324.5 315.4 325.9 316.0 C327.3 316.6 330.1 317.1 331.8 317.7 C333.6 318.3 340.3 321.1 340.3 321.1 C340.3 321.1 342.2 316.9 342.9 315.1 C343.5 313.4 344.7 308.7 345.4 306.7 C346.1 304.6 348.1 299.9 348.8 298.2 C349.5 296.4 350.7 293.4 351.3 292.2 C352.0 291.0 353.9 288.0 353.9 288.0 C353.9 288.0 356.4 289.2 357.3 289.7 C358.2 290.2 361.5 292.2 361.5 292.2 C361.5 292.2 362.8 289.7 363.2 288.0 C363.6 286.3 364.5 280.4 364.9 277.8 C365.3 275.2 366.2 268.8 366.6 265.9 C367.0 263.1 367.9 256.7 368.3 254.0 C368.7 251.4 369.5 246.3 370.0 243.9 C370.5 241.4 372.0 235.9 372.6 233.7 C373.2 231.4 374.4 226.6 375.1 225.2 C375.8 223.8 377.4 222.3 378.5 221.8 C379.6 221.3 382.5 221.0 384.4 220.9 C386.4 220.8 393.4 220.9 394.6 220.9" stroke="#15110f" stroke-width="1.6" fill="none" stroke-dasharray="1.4 2.2" stroke-linejoin="round"/>
<path d="M406.8 224.3 C408.0 224.9 414.7 228.5 417.0 229.4 C419.2 230.3 423.4 231.0 425.5 232.0 C427.5 233.0 431.9 236.5 433.9 237.9 C436.0 239.3 440.4 242.4 442.4 243.9 C444.5 245.3 448.9 248.5 450.9 249.8 C453.0 251.1 457.4 254.0 459.4 254.9 C461.4 255.8 466.1 256.7 467.9 257.4 C469.7 258.1 473.1 260.0 474.7 260.8 C476.3 261.6 479.8 263.3 481.5 264.2 C483.1 265.1 486.6 267.3 488.3 268.5 C489.9 269.6 493.4 272.3 495.0 273.6 C496.7 274.8 500.4 277.3 501.8 278.6 C503.3 280.0 505.8 283.4 506.9 284.6 C508.1 285.8 510.7 287.9 511.2 288.3" stroke="#15110f" stroke-width="1.6" fill="none" stroke-dasharray="1.4 2.2" stroke-linejoin="round"/>
</g>
<text class="tt" x="351.2" y="380.6">ACF321C50/--</text>
<g filter="url(#b)">
<path d="M541.90 219.50H767.10M541.90 233.15H767.10M541.90 246.80H767.10M541.90 260.45H767.10M541.90 274.10H767.10M541.90 287.75H767.10M541.90 301.40H767.10M541.90 315.05H767.10M541.90 328.70H767.10M541.90 342.35H767.10M541.90 356.00H767.10M542.50 218.90V356.60M562.20 218.90V356.60M581.20 218.90V356.60M592.50 218.90V356.60M601.00 218.90V356.60M607.10 218.90V356.60M628.40 218.90V356.60M648.00 218.90V356.60M659.30 218.90V356.60M667.70 218.90V356.60M672.60 218.90V356.60M692.20 218.90V356.60M711.50 218.90V356.60M722.30 218.90V356.60M730.20 218.90V356.60M735.80 218.90V356.60M754.90 218.90V356.60M766.50 218.90V356.60" stroke="#1c1816" stroke-width="1.45" fill="none"/>
<text class="ax" text-anchor="end" transform="translate(538.3 223.5) scale(.78 1)">100</text>
<text class="ax" text-anchor="end" transform="translate(538.3 235.5) scale(.78 1)">90</text>
<text class="ax" text-anchor="end" transform="translate(538.3 249.1) scale(.78 1)">80</text>
<text class="ax" text-anchor="end" transform="translate(538.3 262.8) scale(.78 1)">70</text>
<text class="ax" text-anchor="end" transform="translate(538.3 276.4) scale(.78 1)">60</text>
<text class="ax" text-anchor="end" transform="translate(538.3 290.1) scale(.78 1)">50</text>
<text class="ax" text-anchor="end" transform="translate(538.3 303.7) scale(.78 1)">40</text>
<text class="ax" text-anchor="end" transform="translate(538.3 317.4) scale(.78 1)">30</text>
<text class="ax" text-anchor="end" transform="translate(538.3 331.0) scale(.78 1)">20</text>
<text class="ax" text-anchor="end" transform="translate(538.3 344.7) scale(.78 1)">10</text>
<text class="ax" text-anchor="end" transform="translate(538.3 358.3) scale(.78 1)">0</text>
<text class="ax" text-anchor="middle" transform="translate(543.4 363.5) scale(.77 1)">0.01</text>
<text class="ax" text-anchor="middle" transform="translate(561.6 363.5) scale(.77 1)">0.02</text>
<text class="ax" text-anchor="middle" transform="translate(577.0 363.5) scale(.77 1)">0.04</text>
<text class="ax" text-anchor="middle" transform="translate(589.2 363.5) scale(.77 1)">0.06</text>
<text class="ax" text-anchor="middle" transform="translate(600.4 363.5) scale(.77 1)">0.08</text>
<text class="ax" text-anchor="middle" transform="translate(610.4 363.5) scale(.77 1)">0.1</text>
<text class="ax" text-anchor="middle" transform="translate(627.2 363.5) scale(.77 1)">0.2</text>
<text class="ax" text-anchor="middle" transform="translate(647.6 363.5) scale(.77 1)">0.4</text>
<text class="ax" text-anchor="middle" transform="translate(658.4 363.5) scale(.77 1)">0.6</text>
<text class="ax" text-anchor="middle" transform="translate(665.8 363.5) scale(.77 1)">0.8</text>
<text class="ax" text-anchor="middle" transform="translate(672.9 363.5) scale(.77 1)">1</text>
<text class="ax" text-anchor="middle" transform="translate(691.9 363.5) scale(.77 1)">2</text>
<text class="ax" text-anchor="middle" transform="translate(712.3 363.5) scale(.77 1)">4</text>
<text class="ax" text-anchor="middle" transform="translate(721.3 363.5) scale(.77 1)">6</text>
<text class="ax" text-anchor="middle" transform="translate(730.0 363.5) scale(.77 1)">8</text>
<text class="ax" text-anchor="middle" transform="translate(737.6 363.5) scale(.77 1)">10</text>
<text class="ax" text-anchor="middle" transform="translate(754.6 363.5) scale(.77 1)">20</text>
<text class="ax" text-anchor="middle" transform="translate(766.6 363.5) scale(.77 1)">30</text>
<text class="ax" style="font-size:5.8px" transform="translate(547.1 228.3) scale(.98 1)">dB</text>
<text class="ax" style="font-size:6px" transform="translate(739.5 352.3) scale(.92 1)">MHz</text>
<path d="M542.6 338.6 C544.0 338.1 548.5 337.0 551.6 335.8 C554.6 334.7 558.5 332.9 561.8 331.3 C565.0 329.6 568.7 327.4 571.9 325.3 C575.2 323.3 578.9 320.8 582.1 318.5 C585.4 316.2 589.2 313.5 592.3 310.9 C595.4 308.3 599.2 304.7 601.6 302.4 C604.1 300.1 605.3 298.9 607.6 296.5 C609.9 294.0 613.1 290.5 616.1 287.1 C619.1 283.7 623.0 279.1 626.3 275.3 C629.5 271.5 633.2 267.2 636.4 263.4 C639.7 259.6 643.1 255.2 646.6 251.5 C650.2 247.8 655.5 243.4 658.8 240.5 C662.1 237.5 665.0 234.5 667.3 232.8 C669.6 231.2 673.2 230.3 673.2 230.3 C673.2 230.3 677.5 238.8 677.5 238.8 C677.5 238.8 681.7 234.5 681.7 234.5 C681.7 234.5 683.9 239.3 685.1 242.2 C686.3 245.0 689.3 252.3 689.3 252.3 C689.3 252.3 692.7 248.9 692.7 248.9 C692.7 248.9 695.3 258.3 695.3 258.3 C695.3 258.3 698.7 254.9 698.7 254.9 C698.7 254.9 698.6 260.9 700.4 263.4 C702.1 265.8 706.6 268.3 709.7 270.2 C712.8 272.1 716.6 273.8 719.9 275.3 C723.2 276.7 727.6 279.0 730.1 279.5 C732.5 280.0 733.5 278.5 735.2 278.6 C736.8 278.8 738.4 279.0 740.3 280.3 C742.2 281.7 744.9 284.8 747.0 287.1 C749.2 289.4 751.9 292.8 753.8 294.8 C755.7 296.8 756.9 298.4 758.9 299.5 C761.0 300.7 765.3 301.5 766.6 301.9" stroke="#15110f" stroke-width="1.35" fill="none" stroke-linejoin="round"/>
<path d="M542.6 332.5 C543.7 332.0 549.7 329.9 551.6 329.1 C553.5 328.2 556.7 326.5 558.4 325.3 C560.0 324.2 563.5 320.9 565.2 319.4 C566.8 317.9 570.3 314.0 571.9 312.6 C573.6 311.2 577.1 308.6 578.7 307.5 C580.4 306.4 583.9 304.2 585.5 303.3 C587.2 302.3 590.7 300.5 592.3 299.9 C593.9 299.3 597.9 298.8 599.1 298.2 C600.3 297.6 601.7 295.8 602.5 294.8 C603.3 293.8 604.9 290.9 605.9 289.7 C606.9 288.5 609.6 285.8 611.0 284.6 C612.4 283.4 615.9 280.9 617.8 279.5 C619.6 278.1 624.2 274.5 626.3 272.7 C628.3 270.9 632.7 266.6 634.7 264.2 C636.8 261.9 641.4 255.8 643.2 253.2 C645.1 250.5 648.4 244.2 650.0 242.2 C651.7 240.1 657.1 236.2 657.1 236.2 C657.1 236.2 662.2 238.8 662.2 238.8 C662.2 238.8 665.9 233.1 667.3 232.0 C668.7 230.9 672.5 229.5 674.1 229.4 C675.6 229.3 678.9 229.8 680.0 231.1 C681.1 232.4 683.4 240.5 683.4 240.5 C683.4 240.5 685.9 233.7 685.9 233.7 C685.9 233.7 688.5 240.5 688.5 240.5 C688.5 240.5 693.6 238.8 693.6 238.8 C693.6 238.8 694.4 250.6 694.4 250.6 C694.4 250.6 700.4 248.9 700.4 248.9 C700.4 248.9 704.6 255.7 704.6 255.7 C704.6 255.7 707.2 249.8 707.2 249.8 C707.2 249.8 710.6 258.3 710.6 258.3 C710.6 258.3 715.4 255.5 716.5 254.9 C717.6 254.3 719.9 253.2 719.9 253.2 C719.9 253.2 719.6 265.1 719.6 265.1 C719.6 265.1 725.0 266.9 726.7 267.6 C728.4 268.3 731.8 270.1 733.5 271.0 C735.1 271.9 738.6 274.2 740.3 275.3 C741.9 276.3 745.4 278.6 747.0 279.5 C748.7 280.4 752.2 281.9 753.8 282.9 C755.5 283.9 759.2 287.0 760.6 288.0 C762.1 289.0 765.1 291.0 765.7 291.4" stroke="#15110f" stroke-width="1.6" fill="none" stroke-dasharray="1.4 2.2" stroke-linejoin="round"/>
</g>
<text class="tt" x="612.3" y="380.6">ACF321C65/--</text>
<g filter="url(#b)">
<path d="M38.10 406.70H263.30M38.10 420.35H263.30M38.10 434.00H263.30M38.10 447.65H263.30M38.10 461.30H263.30M38.10 474.95H263.30M38.10 488.60H263.30M38.10 502.25H263.30M38.10 515.90H263.30M38.10 529.55H263.30M38.10 543.20H263.30M38.70 406.10V543.80M58.40 406.10V543.80M77.40 406.10V543.80M88.70 406.10V543.80M97.20 406.10V543.80M103.30 406.10V543.80M124.60 406.10V543.80M144.20 406.10V543.80M155.50 406.10V543.80M163.90 406.10V543.80M168.80 406.10V543.80M188.40 406.10V543.80M207.70 406.10V543.80M218.50 406.10V543.80M226.40 406.10V543.80M232.00 406.10V543.80M251.10 406.10V543.80M262.70 406.10V543.80" stroke="#1c1816" stroke-width="1.45" fill="none"/>
<text class="ax" text-anchor="end" transform="translate(34.5 410.7) scale(.78 1)">100</text>
<text class="ax" text-anchor="end" transform="translate(34.5 422.6) scale(.78 1)">90</text>
<text class="ax" text-anchor="end" transform="translate(34.5 436.3) scale(.78 1)">80</text>
<text class="ax" text-anchor="end" transform="translate(34.5 449.9) scale(.78 1)">70</text>
<text class="ax" text-anchor="end" transform="translate(34.5 463.6) scale(.78 1)">60</text>
<text class="ax" text-anchor="end" transform="translate(34.5 477.2) scale(.78 1)">50</text>
<text class="ax" text-anchor="end" transform="translate(34.5 490.9) scale(.78 1)">40</text>
<text class="ax" text-anchor="end" transform="translate(34.5 504.6) scale(.78 1)">30</text>
<text class="ax" text-anchor="end" transform="translate(34.5 518.2) scale(.78 1)">20</text>
<text class="ax" text-anchor="end" transform="translate(34.5 531.8) scale(.78 1)">10</text>
<text class="ax" text-anchor="end" transform="translate(34.5 545.5) scale(.78 1)">0</text>
<text class="ax" text-anchor="middle" transform="translate(39.6 550.7) scale(.77 1)">0.01</text>
<text class="ax" text-anchor="middle" transform="translate(57.8 550.7) scale(.77 1)">0.02</text>
<text class="ax" text-anchor="middle" transform="translate(73.2 550.7) scale(.77 1)">0.04</text>
<text class="ax" text-anchor="middle" transform="translate(85.4 550.7) scale(.77 1)">0.06</text>
<text class="ax" text-anchor="middle" transform="translate(96.6 550.7) scale(.77 1)">0.08</text>
<text class="ax" text-anchor="middle" transform="translate(106.6 550.7) scale(.77 1)">0.1</text>
<text class="ax" text-anchor="middle" transform="translate(123.5 550.7) scale(.77 1)">0.2</text>
<text class="ax" text-anchor="middle" transform="translate(143.9 550.7) scale(.77 1)">0.4</text>
<text class="ax" text-anchor="middle" transform="translate(154.6 550.7) scale(.77 1)">0.6</text>
<text class="ax" text-anchor="middle" transform="translate(161.9 550.7) scale(.77 1)">0.8</text>
<text class="ax" text-anchor="middle" transform="translate(169.1 550.7) scale(.77 1)">1</text>
<text class="ax" text-anchor="middle" transform="translate(188.1 550.7) scale(.77 1)">2</text>
<text class="ax" text-anchor="middle" transform="translate(208.5 550.7) scale(.77 1)">4</text>
<text class="ax" text-anchor="middle" transform="translate(217.5 550.7) scale(.77 1)">6</text>
<text class="ax" text-anchor="middle" transform="translate(226.2 550.7) scale(.77 1)">8</text>
<text class="ax" text-anchor="middle" transform="translate(233.8 550.7) scale(.77 1)">10</text>
<text class="ax" text-anchor="middle" transform="translate(250.8 550.7) scale(.77 1)">20</text>
<text class="ax" text-anchor="middle" transform="translate(262.8 550.7) scale(.77 1)">30</text>
<text class="ax" style="font-size:5.8px" transform="translate(43.3 415.5) scale(.98 1)">dB</text>
<text class="ax" style="font-size:6px" transform="translate(235.7 539.5) scale(.92 1)">MHz</text>
<path d="M38.6 529.0 C40.0 528.4 44.5 527.0 47.6 525.6 C50.6 524.1 54.5 522.1 57.8 520.0 C61.0 517.8 64.7 514.9 67.9 512.3 C71.2 509.7 74.9 506.6 78.1 503.8 C81.4 501.1 85.2 498.1 88.3 495.4 C91.4 492.6 95.2 489.3 97.6 486.9 C100.1 484.4 101.3 482.5 103.6 480.1 C105.9 477.6 109.1 474.7 112.1 471.6 C115.1 468.5 119.0 464.0 122.3 460.6 C125.5 457.2 129.2 453.5 132.4 450.4 C135.7 447.3 139.2 443.8 142.6 441.0 C146.1 438.3 151.5 434.8 153.9 433.4 C156.4 432.0 156.6 432.4 158.2 432.6 C159.8 432.7 162.0 433.3 164.1 434.2 C166.3 435.2 167.8 436.5 171.8 438.5 C175.7 440.5 183.0 444.3 188.7 447.0 C194.4 449.7 201.4 452.6 207.4 455.5 C213.4 458.3 220.9 462.5 226.1 464.8 C231.2 467.1 235.9 468.5 239.7 469.9 C243.5 471.3 247.1 472.5 249.8 473.3 C252.6 474.1 254.6 474.7 256.6 475.0 C258.7 475.3 261.6 475.0 262.6 475.0" stroke="#15110f" stroke-width="1.35" fill="none" stroke-linejoin="round"/>
<path d="M38.6 520.8 C39.5 520.8 45.9 520.8 45.9 520.8 C45.9 520.8 48.4 515.6 49.3 514.0 C50.2 512.5 52.5 509.5 53.5 508.1 C54.5 506.7 56.7 503.6 57.8 502.1 C58.8 500.7 61.3 497.1 62.0 496.2 C62.7 495.3 63.7 494.5 63.7 494.5 C63.7 494.5 64.9 498.3 65.4 499.6 C65.9 500.9 67.9 505.5 67.9 505.5 C67.9 505.5 70.0 505.1 70.5 503.8 C71.0 502.6 71.8 497.8 72.2 495.4 C72.6 492.9 73.4 486.5 73.9 483.5 C74.4 480.4 75.8 472.7 76.4 469.9 C77.0 467.0 78.3 461.8 79.0 459.7 C79.7 457.6 81.5 453.5 82.4 452.1 C83.3 450.7 85.6 448.6 86.6 448.2 C87.6 447.8 90.9 448.7 90.9 448.7 C90.9 448.7 92.9 453.3 93.4 454.6 C93.9 455.9 95.1 459.7 95.1 459.7 C95.1 459.7 98.3 457.3 99.3 456.3 C100.4 455.3 102.5 452.3 103.6 451.2 C104.7 450.1 107.3 448.0 108.7 447.0 C110.1 446.0 113.8 443.8 115.5 442.7 C117.1 441.7 120.6 439.5 122.3 438.5 C123.9 437.5 127.2 435.4 129.0 434.2 C130.9 433.1 135.5 430.3 137.5 429.2 C139.6 428.0 144.0 425.8 146.0 424.9 C148.1 424.0 152.9 421.7 154.8 421.5 C156.7 421.3 159.9 422.6 161.6 423.2 C163.2 423.8 166.5 425.7 168.4 426.6 C170.2 427.5 174.4 429.6 176.9 430.9 C179.3 432.1 186.1 435.5 188.7 436.8 C191.4 438.1 196.7 440.8 198.9 441.9 C201.2 443.0 205.2 445.1 207.4 446.1 C209.6 447.1 215.3 449.4 217.6 450.4 C219.8 451.4 223.8 453.5 226.1 454.6 C228.3 455.7 233.8 458.6 236.3 459.7 C238.7 460.8 244.2 463.0 246.4 464.0 C248.7 464.9 253.0 466.6 254.9 467.3 C256.9 468.1 261.7 469.9 262.6 470.2" stroke="#15110f" stroke-width="1.6" fill="none" stroke-dasharray="1.4 2.2" stroke-linejoin="round"/>
</g>
<text class="tt" x="97.5" y="567.8">ACF321C80/--</text>
<g filter="url(#b)">
<path d="M290.20 406.70H515.40M290.20 420.35H515.40M290.20 434.00H515.40M290.20 447.65H515.40M290.20 461.30H515.40M290.20 474.95H515.40M290.20 488.60H515.40M290.20 502.25H515.40M290.20 515.90H515.40M290.20 529.55H515.40M290.20 543.20H515.40M290.80 406.10V543.80M310.50 406.10V543.80M329.50 406.10V543.80M340.80 406.10V543.80M349.30 406.10V543.80M355.40 406.10V543.80M376.70 406.10V543.80M396.30 406.10V543.80M407.60 406.10V543.80M416.00 406.10V543.80M420.90 406.10V543.80M440.50 406.10V543.80M459.80 406.10V543.80M470.60 406.10V543.80M478.50 406.10V543.80M484.10 406.10V543.80M503.20 406.10V543.80M514.80 406.10V543.80" stroke="#1c1816" stroke-width="1.45" fill="none"/>
<text class="ax" text-anchor="end" transform="translate(286.6 410.7) scale(.78 1)">100</text>
<text class="ax" text-anchor="end" transform="translate(286.6 422.6) scale(.78 1)">90</text>
<text class="ax" text-anchor="end" transform="translate(286.6 436.3) scale(.78 1)">80</text>
<text class="ax" text-anchor="end" transform="translate(286.6 449.9) scale(.78 1)">70</text>
<text class="ax" text-anchor="end" transform="translate(286.6 463.6) scale(.78 1)">60</text>
<text class="ax" text-anchor="end" transform="translate(286.6 477.2) scale(.78 1)">50</text>
<text class="ax" text-anchor="end" transform="translate(286.6 490.9) scale(.78 1)">40</text>
<text class="ax" text-anchor="end" transform="translate(286.6 504.6) scale(.78 1)">30</text>
<text class="ax" text-anchor="end" transform="translate(286.6 518.2) scale(.78 1)">20</text>
<text class="ax" text-anchor="end" transform="translate(286.6 531.8) scale(.78 1)">10</text>
<text class="ax" text-anchor="end" transform="translate(286.6 545.5) scale(.78 1)">0</text>
<text class="ax" text-anchor="middle" transform="translate(291.7 550.7) scale(.77 1)">0.01</text>
<text class="ax" text-anchor="middle" transform="translate(309.9 550.7) scale(.77 1)">0.02</text>
<text class="ax" text-anchor="middle" transform="translate(325.2 550.7) scale(.77 1)">0.04</text>
<text class="ax" text-anchor="middle" transform="translate(337.5 550.7) scale(.77 1)">0.06</text>
<text class="ax" text-anchor="middle" transform="translate(348.7 550.7) scale(.77 1)">0.08</text>
<text class="ax" text-anchor="middle" transform="translate(358.7 550.7) scale(.77 1)">0.1</text>
<text class="ax" text-anchor="middle" transform="translate(375.6 550.7) scale(.77 1)">0.2</text>
<text class="ax" text-anchor="middle" transform="translate(396.0 550.7) scale(.77 1)">0.4</text>
<text class="ax" text-anchor="middle" transform="translate(406.6 550.7) scale(.77 1)">0.6</text>
<text class="ax" text-anchor="middle" transform="translate(414.1 550.7) scale(.77 1)">0.8</text>
<text class="ax" text-anchor="middle" transform="translate(421.2 550.7) scale(.77 1)">1</text>
<text class="ax" text-anchor="middle" transform="translate(440.2 550.7) scale(.77 1)">2</text>
<text class="ax" text-anchor="middle" transform="translate(460.6 550.7) scale(.77 1)">4</text>
<text class="ax" text-anchor="middle" transform="translate(469.6 550.7) scale(.77 1)">6</text>
<text class="ax" text-anchor="middle" transform="translate(478.3 550.7) scale(.77 1)">8</text>
<text class="ax" text-anchor="middle" transform="translate(485.9 550.7) scale(.77 1)">10</text>
<text class="ax" text-anchor="middle" transform="translate(502.9 550.7) scale(.77 1)">20</text>
<text class="ax" text-anchor="middle" transform="translate(514.9 550.7) scale(.77 1)">30</text>
<text class="ax" style="font-size:5.8px" transform="translate(295.4 415.5) scale(.98 1)">dB</text>
<text class="ax" style="font-size:6px" transform="translate(487.8 539.5) scale(.92 1)">MHz</text>
<path d="M290.6 531.0 C292.3 531.1 298.8 531.7 301.3 531.3 C303.8 531.0 304.7 530.2 306.4 529.0 C308.0 527.7 309.3 526.0 311.5 523.4 C313.6 520.7 317.2 516.3 319.9 512.3 C322.7 508.4 325.2 503.9 328.4 498.7 C331.7 493.6 336.9 485.1 340.3 480.1 C343.7 475.1 347.2 470.6 349.6 467.3 C352.1 464.1 353.3 462.7 355.6 459.7 C357.9 456.7 361.6 451.8 364.1 448.7 C366.5 445.6 368.7 442.8 370.9 440.2 C373.0 437.6 375.5 434.7 377.7 432.6 C379.8 430.4 382.3 428.2 384.4 426.6 C386.6 425.0 389.1 423.4 391.2 422.4 C393.4 421.4 393.9 420.7 398.0 420.3 C402.1 420.0 411.8 420.1 417.0 420.3 C422.2 420.5 426.2 421.0 430.6 421.5 C434.9 422.1 439.5 422.8 444.1 423.7 C448.7 424.6 455.1 426.0 459.4 427.1 C463.8 428.2 467.8 429.4 471.3 430.5 C474.8 431.7 479.0 433.1 481.5 434.2 C483.9 435.4 484.9 436.6 486.6 437.6 C488.2 438.7 490.0 440.5 491.7 441.0 C493.3 441.5 495.1 441.2 496.7 440.7 C498.4 440.2 500.5 438.8 501.8 437.6 C503.2 436.5 504.4 434.2 505.2 433.4 C506.1 432.6 507.3 432.6 507.3 432.6 C507.3 432.6 508.7 434.4 509.5 437.6 C510.2 440.9 511.2 448.3 512.0 452.9 C512.8 457.5 514.2 464.3 514.6 466.5" stroke="#15110f" stroke-width="1.35" fill="none" stroke-linejoin="round"/>
<path d="M290.6 527.3 C291.3 526.6 294.7 523.1 296.2 521.7 C297.7 520.2 301.5 516.5 303.0 514.9 C304.4 513.2 306.9 509.5 308.1 508.1 C309.2 506.7 311.4 503.8 312.3 503.0 C313.2 502.2 315.7 501.3 315.7 501.3 C315.7 501.3 318.4 504.4 319.1 505.5 C319.8 506.7 321.6 510.6 321.6 510.6 C321.6 510.6 323.5 507.1 324.2 505.5 C324.9 504.0 326.8 499.9 327.6 497.9 C328.4 495.9 330.2 490.8 331.0 488.6 C331.8 486.3 333.6 481.2 334.4 479.2 C335.2 477.3 336.9 474.2 337.8 472.4 C338.7 470.7 341.0 466.3 342.0 464.8 C343.0 463.3 345.1 460.9 346.3 459.7 C347.4 458.5 350.3 456.0 351.3 454.6 C352.4 453.2 354.0 449.6 354.7 447.8 C355.5 446.1 357.3 440.2 357.3 440.2 C357.3 440.2 360.7 444.4 360.7 444.4 C360.7 444.4 362.7 444.0 363.2 442.7 C363.7 441.5 364.4 436.7 364.9 434.2 C365.4 431.8 366.8 424.6 367.5 422.4 C368.2 420.1 369.8 417.0 370.9 415.6 C371.9 414.2 374.7 411.3 376.0 410.5 C377.2 409.7 381.0 409.1 381.0 409.1 C381.0 409.1 384.4 414.7 384.4 414.7 C384.4 414.7 386.8 411.2 387.8 410.5 C388.9 409.8 392.9 408.8 392.9 408.8 C392.9 408.8 396.3 414.7 396.3 414.7 C396.3 414.7 399.7 409.6 399.7 409.6 C399.7 409.6 403.3 409.9 404.2 410.5 C405.2 411.1 407.6 414.7 407.6 414.7 C407.6 414.7 411.9 410.5 411.9 410.5 C411.9 410.5 417.0 418.1 417.0 418.1 C417.0 418.1 420.6 416.3 422.1 415.6 C423.5 414.8 427.2 412.4 428.9 411.8 C430.5 411.3 434.2 410.7 435.6 410.8 C437.1 411.0 439.5 412.4 440.7 413.0 C442.0 413.7 444.2 415.8 445.8 416.4 C447.5 417.0 452.1 417.8 454.3 418.1 C456.6 418.4 462.5 418.6 464.5 419.0 C466.5 419.4 469.7 420.8 471.3 421.5 C472.9 422.2 476.4 424.1 478.1 424.9 C479.7 425.7 483.2 427.4 484.9 428.3 C486.5 429.2 490.0 431.4 491.7 432.2 C493.3 433.0 497.0 434.6 498.4 435.1 C499.9 435.5 503.5 435.9 503.5 435.9 C503.5 435.9 505.8 441.2 506.1 441.9" stroke="#15110f" stroke-width="1.6" fill="none" stroke-dasharray="1.4 2.2" stroke-linejoin="round"/>
</g>
<text class="tt" x="351.2" y="567.8">ACF321C100/--</text>
<g filter="url(#b)">
<path d="M541.90 406.70H767.10M541.90 420.35H767.10M541.90 434.00H767.10M541.90 447.65H767.10M541.90 461.30H767.10M541.90 474.95H767.10M541.90 488.60H767.10M541.90 502.25H767.10M541.90 515.90H767.10M541.90 529.55H767.10M541.90 543.20H767.10M542.50 406.10V543.80M562.20 406.10V543.80M581.20 406.10V543.80M592.50 406.10V543.80M601.00 406.10V543.80M607.10 406.10V543.80M628.40 406.10V543.80M648.00 406.10V543.80M659.30 406.10V543.80M667.70 406.10V543.80M672.60 406.10V543.80M692.20 406.10V543.80M711.50 406.10V543.80M722.30 406.10V543.80M730.20 406.10V543.80M735.80 406.10V543.80M754.90 406.10V543.80M766.50 406.10V543.80" stroke="#1c1816" stroke-width="1.45" fill="none"/>
<text class="ax" text-anchor="end" transform="translate(538.3 410.7) scale(.78 1)">100</text>
<text class="ax" text-anchor="end" transform="translate(538.3 422.6) scale(.78 1)">90</text>
<text class="ax" text-anchor="end" transform="translate(538.3 436.3) scale(.78 1)">80</text>
<text class="ax" text-anchor="end" transform="translate(538.3 449.9) scale(.78 1)">70</text>
<text class="ax" text-anchor="end" transform="translate(538.3 463.6) scale(.78 1)">60</text>
<text class="ax" text-anchor="end" transform="translate(538.3 477.2) scale(.78 1)">50</text>
<text class="ax" text-anchor="end" transform="translate(538.3 490.9) scale(.78 1)">40</text>
<text class="ax" text-anchor="end" transform="translate(538.3 504.6) scale(.78 1)">30</text>
<text class="ax" text-anchor="end" transform="translate(538.3 518.2) scale(.78 1)">20</text>
<text class="ax" text-anchor="end" transform="translate(538.3 531.8) scale(.78 1)">10</text>
<text class="ax" text-anchor="end" transform="translate(538.3 545.5) scale(.78 1)">0</text>
<text class="ax" text-anchor="middle" transform="translate(543.4 550.7) scale(.77 1)">0.01</text>
<text class="ax" text-anchor="middle" transform="translate(561.6 550.7) scale(.77 1)">0.02</text>
<text class="ax" text-anchor="middle" transform="translate(577.0 550.7) scale(.77 1)">0.04</text>
<text class="ax" text-anchor="middle" transform="translate(589.2 550.7) scale(.77 1)">0.06</text>
<text class="ax" text-anchor="middle" transform="translate(600.4 550.7) scale(.77 1)">0.08</text>
<text class="ax" text-anchor="middle" transform="translate(610.4 550.7) scale(.77 1)">0.1</text>
<text class="ax" text-anchor="middle" transform="translate(627.2 550.7) scale(.77 1)">0.2</text>
<text class="ax" text-anchor="middle" transform="translate(647.6 550.7) scale(.77 1)">0.4</text>
<text class="ax" text-anchor="middle" transform="translate(658.4 550.7) scale(.77 1)">0.6</text>
<text class="ax" text-anchor="middle" transform="translate(665.8 550.7) scale(.77 1)">0.8</text>
<text class="ax" text-anchor="middle" transform="translate(672.9 550.7) scale(.77 1)">1</text>
<text class="ax" text-anchor="middle" transform="translate(691.9 550.7) scale(.77 1)">2</text>
<text class="ax" text-anchor="middle" transform="translate(712.3 550.7) scale(.77 1)">4</text>
<text class="ax" text-anchor="middle" transform="translate(721.3 550.7) scale(.77 1)">6</text>
<text class="ax" text-anchor="middle" transform="translate(730.0 550.7) scale(.77 1)">8</text>
<text class="ax" text-anchor="middle" transform="translate(737.6 550.7) scale(.77 1)">10</text>
<text class="ax" text-anchor="middle" transform="translate(754.6 550.7) scale(.77 1)">20</text>
<text class="ax" text-anchor="middle" transform="translate(766.6 550.7) scale(.77 1)">30</text>
<text class="ax" style="font-size:5.8px" transform="translate(547.1 415.5) scale(.98 1)">dB</text>
<text class="ax" style="font-size:6px" transform="translate(739.5 539.5) scale(.92 1)">MHz</text>
<path d="M542.6 534.4 C543.5 534.8 546.2 536.4 548.2 536.9 C550.2 537.4 553.3 537.6 555.0 537.4 C556.6 537.3 557.4 537.2 558.4 535.7 C559.3 534.3 560.1 531.4 560.9 528.4 C561.7 525.5 562.4 521.1 563.5 517.4 C564.5 513.8 566.3 508.9 567.7 505.5 C569.1 502.1 569.9 500.0 571.9 496.2 C574.0 492.4 577.2 486.7 580.4 481.8 C583.7 476.9 588.9 469.7 592.3 465.6 C595.7 461.6 599.2 458.6 601.6 456.3 C604.1 454.0 605.3 453.0 607.6 451.2 C609.9 449.5 613.1 447.0 616.1 445.3 C619.1 443.5 623.0 441.5 626.3 440.2 C629.5 438.8 633.2 437.7 636.4 436.8 C639.7 435.8 640.9 434.8 646.6 434.2 C652.4 433.7 665.0 433.3 672.4 433.1 C679.7 432.8 687.3 432.4 692.7 432.6 C698.2 432.7 702.5 433.1 706.3 433.9 C710.1 434.7 713.5 436.2 716.5 437.6 C719.5 439.1 722.3 440.8 725.0 442.7 C727.7 444.6 731.0 447.4 733.5 449.5 C735.9 451.7 738.1 454.3 740.3 456.3 C742.4 458.4 744.9 460.6 747.0 462.3 C749.2 463.9 751.7 465.5 753.8 466.5 C756.0 467.4 758.6 467.9 760.6 468.2 C762.7 468.5 765.6 468.2 766.6 468.2" stroke="#15110f" stroke-width="1.35" fill="none" stroke-linejoin="round"/>
<path d="M543.9 529.3 C544.1 529.1 544.9 528.6 545.6 527.6 C546.4 526.6 548.8 522.6 549.9 520.8 C551.0 519.0 553.8 514.6 555.0 512.3 C556.2 510.1 559.0 504.1 560.1 502.1 C561.1 500.2 562.7 497.2 563.5 496.2 C564.2 495.2 566.0 493.7 566.0 493.7 C566.0 493.7 567.9 493.5 568.6 494.5 C569.2 495.5 571.1 502.1 571.1 502.1 C571.1 502.1 571.7 495.9 571.9 493.7 C572.1 491.4 572.5 486.3 572.8 483.5 C573.1 480.6 574.0 472.9 574.5 469.9 C575.0 466.8 576.3 460.5 577.0 458.0 C577.8 455.6 579.4 451.4 580.4 449.5 C581.5 447.7 584.1 444.3 585.5 442.7 C587.0 441.2 590.7 438.1 592.3 436.8 C593.9 435.5 597.5 432.8 599.1 431.7 C600.7 430.6 604.3 428.4 605.9 427.5 C607.5 426.5 611.1 424.8 612.7 424.1 C614.3 423.4 617.8 422.0 619.5 421.5 C621.1 421.0 624.2 420.1 626.3 419.8 C628.3 419.5 633.8 419.1 636.4 419.0 C639.1 418.9 645.2 418.8 648.3 419.0 C651.4 419.1 659.5 419.9 662.2 420.3 C664.9 420.7 668.6 421.6 670.7 422.4 C672.7 423.1 676.5 425.4 679.2 426.6 C681.8 427.8 689.9 431.1 692.7 432.6 C695.6 434.0 700.7 437.2 702.9 438.5 C705.2 439.8 709.2 442.2 711.4 443.6 C713.6 445.0 719.3 448.8 721.6 450.4 C723.8 451.9 727.8 454.8 730.1 456.3 C732.3 457.8 737.8 461.5 740.3 463.1 C742.7 464.7 748.2 468.6 750.4 469.9 C752.7 471.2 757.0 473.4 758.9 474.1 C760.9 474.9 765.7 476.1 766.6 476.3" stroke="#15110f" stroke-width="1.6" fill="none" stroke-dasharray="1.4 2.2" stroke-linejoin="round"/>
</g>
<text class="tt" x="598.5" y="567.8">ACF321C150/--</text>
<g filter="url(#b)">
<path d="M38.10 593.50H263.30M38.10 607.15H263.30M38.10 620.80H263.30M38.10 634.45H263.30M38.10 648.10H263.30M38.10 661.75H263.30M38.10 675.40H263.30M38.10 689.05H263.30M38.10 702.70H263.30M38.10 716.35H263.30M38.10 730.00H263.30M38.70 592.90V730.60M58.40 592.90V730.60M77.40 592.90V730.60M88.70 592.90V730.60M97.20 592.90V730.60M103.30 592.90V730.60M124.60 592.90V730.60M144.20 592.90V730.60M155.50 592.90V730.60M163.90 592.90V730.60M168.80 592.90V730.60M188.40 592.90V730.60M207.70 592.90V730.60M218.50 592.90V730.60M226.40 592.90V730.60M232.00 592.90V730.60M251.10 592.90V730.60M262.70 592.90V730.60" stroke="#1c1816" stroke-width="1.45" fill="none"/>
<text class="ax" text-anchor="end" transform="translate(34.5 597.5) scale(.78 1)">100</text>
<text class="ax" text-anchor="end" transform="translate(34.5 609.4) scale(.78 1)">90</text>
<text class="ax" text-anchor="end" transform="translate(34.5 623.1) scale(.78 1)">80</text>
<text class="ax" text-anchor="end" transform="translate(34.5 636.8) scale(.78 1)">70</text>
<text class="ax" text-anchor="end" transform="translate(34.5 650.4) scale(.78 1)">60</text>
<text class="ax" text-anchor="end" transform="translate(34.5 664.0) scale(.78 1)">50</text>
<text class="ax" text-anchor="end" transform="translate(34.5 677.7) scale(.78 1)">40</text>
<text class="ax" text-anchor="end" transform="translate(34.5 691.3) scale(.78 1)">30</text>
<text class="ax" text-anchor="end" transform="translate(34.5 705.0) scale(.78 1)">20</text>
<text class="ax" text-anchor="end" transform="translate(34.5 718.6) scale(.78 1)">10</text>
<text class="ax" text-anchor="end" transform="translate(34.5 732.3) scale(.78 1)">0</text>
<text class="ax" text-anchor="middle" transform="translate(39.6 737.5) scale(.77 1)">0.01</text>
<text class="ax" text-anchor="middle" transform="translate(57.8 737.5) scale(.77 1)">0.02</text>
<text class="ax" text-anchor="middle" transform="translate(73.2 737.5) scale(.77 1)">0.04</text>
<text class="ax" text-anchor="middle" transform="translate(85.4 737.5) scale(.77 1)">0.06</text>
<text class="ax" text-anchor="middle" transform="translate(96.6 737.5) scale(.77 1)">0.08</text>
<text class="ax" text-anchor="middle" transform="translate(106.6 737.5) scale(.77 1)">0.1</text>
<text class="ax" text-anchor="middle" transform="translate(123.5 737.5) scale(.77 1)">0.2</text>
<text class="ax" text-anchor="middle" transform="translate(143.9 737.5) scale(.77 1)">0.4</text>
<text class="ax" text-anchor="middle" transform="translate(154.6 737.5) scale(.77 1)">0.6</text>
<text class="ax" text-anchor="middle" transform="translate(161.9 737.5) scale(.77 1)">0.8</text>
<text class="ax" text-anchor="middle" transform="translate(169.1 737.5) scale(.77 1)">1</text>
<text class="ax" text-anchor="middle" transform="translate(188.1 737.5) scale(.77 1)">2</text>
<text class="ax" text-anchor="middle" transform="translate(208.5 737.5) scale(.77 1)">4</text>
<text class="ax" text-anchor="middle" transform="translate(217.5 737.5) scale(.77 1)">6</text>
<text class="ax" text-anchor="middle" transform="translate(226.2 737.5) scale(.77 1)">8</text>
<text class="ax" text-anchor="middle" transform="translate(233.8 737.5) scale(.77 1)">10</text>
<text class="ax" text-anchor="middle" transform="translate(250.8 737.5) scale(.77 1)">20</text>
<text class="ax" text-anchor="middle" transform="translate(262.8 737.5) scale(.77 1)">30</text>
<text class="ax" style="font-size:5.8px" transform="translate(43.3 602.3) scale(.98 1)">dB</text>
<text class="ax" style="font-size:6px" transform="translate(235.7 726.3) scale(.92 1)">MHz</text>
<path d="M38.6 725.5 C40.0 725.2 45.2 724.4 47.6 723.8 C50.0 723.2 51.9 723.1 53.5 721.7 C55.1 720.4 55.5 718.8 57.8 715.3 C60.1 711.8 65.0 704.4 67.9 700.0 C70.9 695.7 73.2 692.6 76.4 688.1 C79.7 683.7 84.9 676.5 88.3 672.0 C91.7 667.5 95.2 663.4 97.6 660.1 C100.1 656.9 101.3 654.8 103.6 651.6 C105.9 648.5 109.1 644.4 112.1 640.6 C115.1 636.8 119.0 631.4 122.3 627.9 C125.5 624.4 129.7 620.8 132.4 618.6 C135.2 616.3 137.6 614.7 139.2 613.8 C140.9 612.8 141.3 612.5 142.6 612.6 C144.0 612.7 145.8 613.2 147.7 614.3 C149.7 615.4 152.8 617.6 154.8 619.4 C156.7 621.2 158.4 623.4 159.9 625.3 C161.4 627.2 162.8 629.9 164.1 631.3 C165.5 632.7 166.1 632.9 168.4 634.2 C170.7 635.4 175.3 637.5 178.6 638.9 C181.8 640.4 185.5 641.9 188.7 643.2 C192.0 644.5 195.9 646.0 198.9 647.1 C201.9 648.2 204.4 648.8 207.4 650.0 C210.4 651.1 214.6 653.0 217.6 654.2 C220.6 655.4 223.1 656.3 226.1 657.3 C229.1 658.2 233.0 659.4 236.3 660.1 C239.5 660.9 242.2 661.5 246.4 661.8 C250.7 662.2 260.0 662.3 262.6 662.3" stroke="#15110f" stroke-width="1.35" fill="none" stroke-linejoin="round"/>
<path d="M38.6 716.1 C39.3 715.8 42.7 714.5 44.2 713.6 C45.7 712.7 49.5 709.6 51.0 708.5 C52.4 707.4 54.8 705.7 56.1 704.3 C57.3 702.8 59.7 698.7 61.2 696.6 C62.6 694.6 66.3 689.4 67.9 687.3 C69.6 685.2 73.1 680.8 74.7 678.8 C76.4 676.8 79.9 672.3 81.5 670.3 C83.2 668.4 86.7 664.6 88.3 662.7 C89.9 660.7 93.5 656.1 95.1 654.2 C96.7 652.3 100.3 648.5 101.9 646.6 C103.5 644.6 107.1 640.1 108.7 638.1 C110.3 636.0 113.8 631.6 115.5 629.6 C117.1 627.5 120.6 622.9 122.3 621.1 C123.9 619.3 127.4 615.9 129.0 614.3 C130.7 612.7 134.2 609.0 135.8 607.5 C137.5 606.0 141.0 602.9 142.6 601.6 C144.3 600.3 148.0 597.6 149.4 596.8 C150.9 596.0 153.3 594.9 154.8 594.8 C156.2 594.6 160.4 595.0 161.6 595.6 C162.8 596.2 164.3 598.8 165.0 599.9 C165.7 601.0 166.9 603.8 167.5 605.0 C168.1 606.2 169.4 609.0 170.1 610.1 C170.8 611.1 172.2 612.7 173.5 613.5 C174.7 614.2 178.2 615.4 180.2 616.0 C182.3 616.6 187.8 617.8 190.4 618.2 C193.1 618.6 200.3 619.1 202.3 619.4 C204.4 619.7 206.2 620.1 207.4 620.6 C208.6 621.1 211.1 622.9 212.5 623.6 C213.9 624.4 217.7 626.1 219.3 627.0 C220.9 628.0 224.4 630.3 226.1 631.3 C227.7 632.3 231.2 634.6 232.9 635.5 C234.5 636.4 238.0 638.1 239.7 638.9 C241.3 639.7 244.8 641.5 246.4 642.3 C248.1 643.1 251.6 645.1 253.2 645.7 C254.9 646.4 259.2 647.5 260.0 647.7" stroke="#15110f" stroke-width="1.6" fill="none" stroke-dasharray="1.4 2.2" stroke-linejoin="round"/>
</g>
<text class="tt" x="82.5" y="754.6">ACF321C200/--</text>
<g filter="url(#b)">
<path d="M290.20 593.50H515.40M290.20 607.15H515.40M290.20 620.80H515.40M290.20 634.45H515.40M290.20 648.10H515.40M290.20 661.75H515.40M290.20 675.40H515.40M290.20 689.05H515.40M290.20 702.70H515.40M290.20 716.35H515.40M290.20 730.00H515.40M290.80 592.90V730.60M310.50 592.90V730.60M329.50 592.90V730.60M340.80 592.90V730.60M349.30 592.90V730.60M355.40 592.90V730.60M376.70 592.90V730.60M396.30 592.90V730.60M407.60 592.90V730.60M416.00 592.90V730.60M420.90 592.90V730.60M440.50 592.90V730.60M459.80 592.90V730.60M470.60 592.90V730.60M478.50 592.90V730.60M484.10 592.90V730.60M503.20 592.90V730.60M514.80 592.90V730.60" stroke="#1c1816" stroke-width="1.45" fill="none"/>
<text class="ax" text-anchor="end" transform="translate(286.6 597.5) scale(.78 1)">100</text>
<text class="ax" text-anchor="end" transform="translate(286.6 609.4) scale(.78 1)">90</text>
<text class="ax" text-anchor="end" transform="translate(286.6 623.1) scale(.78 1)">80</text>
<text class="ax" text-anchor="end" transform="translate(286.6 636.8) scale(.78 1)">70</text>
<text class="ax" text-anchor="end" transform="translate(286.6 650.4) scale(.78 1)">60</text>
<text class="ax" text-anchor="end" transform="translate(286.6 664.0) scale(.78 1)">50</text>
<text class="ax" text-anchor="end" transform="translate(286.6 677.7) scale(.78 1)">40</text>
<text class="ax" text-anchor="end" transform="translate(286.6 691.3) scale(.78 1)">30</text>
<text class="ax" text-anchor="end" transform="translate(286.6 705.0) scale(.78 1)">20</text>
<text class="ax" text-anchor="end" transform="translate(286.6 718.6) scale(.78 1)">10</text>
<text class="ax" text-anchor="end" transform="translate(286.6 732.3) scale(.78 1)">0</text>
<text class="ax" text-anchor="middle" transform="translate(291.7 737.5) scale(.77 1)">0.01</text>
<text class="ax" text-anchor="middle" transform="translate(309.9 737.5) scale(.77 1)">0.02</text>
<text class="ax" text-anchor="middle" transform="translate(325.2 737.5) scale(.77 1)">0.04</text>
<text class="ax" text-anchor="middle" transform="translate(337.5 737.5) scale(.77 1)">0.06</text>
<text class="ax" text-anchor="middle" transform="translate(348.7 737.5) scale(.77 1)">0.08</text>
<text class="ax" text-anchor="middle" transform="translate(358.7 737.5) scale(.77 1)">0.1</text>
<text class="ax" text-anchor="middle" transform="translate(375.6 737.5) scale(.77 1)">0.2</text>
<text class="ax" text-anchor="middle" transform="translate(396.0 737.5) scale(.77 1)">0.4</text>
<text class="ax" text-anchor="middle" transform="translate(406.6 737.5) scale(.77 1)">0.6</text>
<text class="ax" text-anchor="middle" transform="translate(414.1 737.5) scale(.77 1)">0.8</text>
<text class="ax" text-anchor="middle" transform="translate(421.2 737.5) scale(.77 1)">1</text>
<text class="ax" text-anchor="middle" transform="translate(440.2 737.5) scale(.77 1)">2</text>
<text class="ax" text-anchor="middle" transform="translate(460.6 737.5) scale(.77 1)">4</text>
<text class="ax" text-anchor="middle" transform="translate(469.6 737.5) scale(.77 1)">6</text>
<text class="ax" text-anchor="middle" transform="translate(478.3 737.5) scale(.77 1)">8</text>
<text class="ax" text-anchor="middle" transform="translate(485.9 737.5) scale(.77 1)">10</text>
<text class="ax" text-anchor="middle" transform="translate(502.9 737.5) scale(.77 1)">20</text>
<text class="ax" text-anchor="middle" transform="translate(514.9 737.5) scale(.77 1)">30</text>
<text class="ax" style="font-size:5.8px" transform="translate(295.4 602.3) scale(.98 1)">dB</text>
<text class="ax" style="font-size:6px" transform="translate(487.8 726.3) scale(.92 1)">MHz</text>
<path d="M290.6 716.7 C291.5 716.3 294.2 715.5 296.2 714.4 C298.2 713.4 300.5 711.6 303.0 710.2 C305.4 708.8 308.7 707.0 311.5 706.0 C314.2 704.9 317.8 703.9 319.9 703.4 C322.1 703.0 325.0 703.1 325.0 703.1 C325.0 703.1 326.8 704.9 327.6 706.8 C328.3 708.8 329.1 713.1 329.8 715.3 C330.5 717.5 331.8 720.7 331.8 720.7 C331.8 720.7 333.6 716.9 334.4 713.6 C335.2 710.3 336.1 704.4 336.9 700.0 C337.7 695.7 338.5 690.8 339.5 686.4 C340.4 682.1 341.6 676.9 342.9 672.9 C344.1 668.8 345.7 664.2 347.1 661.0 C348.5 657.7 350.0 655.1 351.3 652.5 C352.7 649.9 354.1 647.2 355.6 644.9 C357.1 642.6 359.1 640.1 360.7 638.1 C362.3 636.1 364.1 634.1 365.8 632.5 C367.4 630.8 369.0 629.3 370.9 627.9 C372.8 626.5 375.5 624.7 377.7 623.6 C379.8 622.6 382.0 621.7 384.4 621.1 C386.9 620.5 390.2 619.9 392.9 619.7 C395.6 619.6 397.8 620.2 401.4 620.2 C405.0 620.3 412.8 620.4 415.3 620.2 C417.8 620.1 416.4 620.8 417.0 619.4 C417.6 618.0 418.5 613.3 419.0 611.8 C419.5 610.3 420.0 610.1 420.0 610.1 C420.0 610.1 420.4 633.8 420.4 633.8 C420.4 633.8 427.3 634.6 430.6 635.2 C433.8 635.7 437.5 636.4 440.7 637.2 C444.0 638.1 447.9 639.5 450.9 640.6 C453.9 641.7 456.4 642.7 459.4 644.0 C462.4 645.4 466.6 647.2 469.6 649.1 C472.6 651.0 475.6 653.9 478.1 655.9 C480.5 657.9 482.7 659.8 484.9 661.8 C487.0 663.9 489.5 666.4 491.7 668.6 C493.8 670.8 496.3 673.1 498.4 675.4 C500.6 677.7 503.3 681.2 505.2 683.0 C507.1 684.9 508.8 686.0 510.3 687.0 C511.8 687.9 513.9 688.7 514.6 689.0" stroke="#15110f" stroke-width="1.35" fill="none" stroke-linejoin="round"/>
<path d="M290.6 718.7 C291.3 718.4 294.7 716.9 296.2 716.1 C297.7 715.4 301.5 713.7 303.0 712.8 C304.4 711.8 306.6 709.4 308.1 708.5 C309.5 707.6 313.2 705.8 314.9 705.1 C316.5 704.5 320.3 703.4 321.6 703.1 C323.0 702.7 325.9 702.1 325.9 702.1 C325.9 702.1 327.5 705.0 328.1 706.8 C328.6 708.6 329.9 715.4 330.5 717.0 C331.0 718.6 332.7 720.4 332.7 720.4 C332.7 720.4 334.6 712.9 335.2 710.2 C335.8 707.6 337.2 701.9 337.8 698.3 C338.4 694.8 339.7 684.2 340.3 680.5 C340.9 676.8 342.0 669.9 342.9 667.8 C343.7 665.6 346.1 663.6 347.1 662.7 C348.1 661.8 350.4 661.0 351.3 660.1 C352.3 659.3 353.9 657.0 354.7 655.9 C355.6 654.8 357.3 652.1 358.1 650.8 C359.0 649.5 360.7 646.4 361.5 644.9 C362.3 643.3 364.0 639.6 364.9 638.1 C365.8 636.5 368.0 633.5 369.2 632.1 C370.3 630.8 372.8 628.1 374.3 627.0 C375.7 626.0 379.4 624.2 381.0 623.6 C382.7 623.1 386.2 622.9 387.8 622.8 C389.5 622.7 393.0 622.6 394.6 622.8 C396.3 623.0 400.0 624.0 401.4 624.5 C402.9 625.0 405.3 626.4 406.8 627.0 C408.2 627.7 411.9 629.3 413.6 630.1 C415.2 630.9 418.5 632.6 420.4 633.5 C422.2 634.3 427.0 636.3 428.9 637.2 C430.7 638.2 434.0 640.4 435.6 641.5 C437.3 642.5 440.6 644.6 442.4 645.7 C444.3 646.8 448.9 649.6 450.9 650.8 C453.0 652.0 457.4 654.8 459.4 655.9 C461.4 657.0 466.1 659.0 467.9 660.1 C469.7 661.3 473.1 664.1 474.7 665.2 C476.3 666.3 479.8 668.5 481.5 669.5 C483.1 670.5 486.6 672.8 488.3 673.7 C489.9 674.6 493.4 676.3 495.0 677.1 C496.7 677.9 500.2 679.7 501.8 680.5 C503.5 681.3 507.2 683.2 508.6 683.9 C510.1 684.6 513.1 686.1 513.7 686.4" stroke="#15110f" stroke-width="1.6" fill="none" stroke-dasharray="1.4 2.2" stroke-linejoin="round"/>
</g>
<text class="tt" x="329.7" y="754.6">ACF321C250/400--</text>
<g filter="url(#b)">
<path d="M541.90 593.50H767.10M541.90 607.15H767.10M541.90 620.80H767.10M541.90 634.45H767.10M541.90 648.10H767.10M541.90 661.75H767.10M541.90 675.40H767.10M541.90 689.05H767.10M541.90 702.70H767.10M541.90 716.35H767.10M541.90 730.00H767.10M542.50 592.90V730.60M562.20 592.90V730.60M581.20 592.90V730.60M592.50 592.90V730.60M601.00 592.90V730.60M607.10 592.90V730.60M628.40 592.90V730.60M648.00 592.90V730.60M659.30 592.90V730.60M667.70 592.90V730.60M672.60 592.90V730.60M692.20 592.90V730.60M711.50 592.90V730.60M722.30 592.90V730.60M730.20 592.90V730.60M735.80 592.90V730.60M754.90 592.90V730.60M766.50 592.90V730.60" stroke="#1c1816" stroke-width="1.45" fill="none"/>
<text class="ax" text-anchor="end" transform="translate(538.3 597.5) scale(.78 1)">100</text>
<text class="ax" text-anchor="end" transform="translate(538.3 609.4) scale(.78 1)">90</text>
<text class="ax" text-anchor="end" transform="translate(538.3 623.1) scale(.78 1)">80</text>
<text class="ax" text-anchor="end" transform="translate(538.3 636.8) scale(.78 1)">70</text>
<text class="ax" text-anchor="end" transform="translate(538.3 650.4) scale(.78 1)">60</text>
<text class="ax" text-anchor="end" transform="translate(538.3 664.0) scale(.78 1)">50</text>
<text class="ax" text-anchor="end" transform="translate(538.3 677.7) scale(.78 1)">40</text>
<text class="ax" text-anchor="end" transform="translate(538.3 691.3) scale(.78 1)">30</text>
<text class="ax" text-anchor="end" transform="translate(538.3 705.0) scale(.78 1)">20</text>
<text class="ax" text-anchor="end" transform="translate(538.3 718.6) scale(.78 1)">10</text>
<text class="ax" text-anchor="end" transform="translate(538.3 732.3) scale(.78 1)">0</text>
<text class="ax" text-anchor="middle" transform="translate(543.4 737.5) scale(.77 1)">0.01</text>
<text class="ax" text-anchor="middle" transform="translate(561.6 737.5) scale(.77 1)">0.02</text>
<text class="ax" text-anchor="middle" transform="translate(577.0 737.5) scale(.77 1)">0.04</text>
<text class="ax" text-anchor="middle" transform="translate(589.2 737.5) scale(.77 1)">0.06</text>
<text class="ax" text-anchor="middle" transform="translate(600.4 737.5) scale(.77 1)">0.08</text>
<text class="ax" text-anchor="middle" transform="translate(610.4 737.5) scale(.77 1)">0.1</text>
<text class="ax" text-anchor="middle" transform="translate(627.2 737.5) scale(.77 1)">0.2</text>
<text class="ax" text-anchor="middle" transform="translate(647.6 737.5) scale(.77 1)">0.4</text>
<text class="ax" text-anchor="middle" transform="translate(658.4 737.5) scale(.77 1)">0.6</text>
<text class="ax" text-anchor="middle" transform="translate(665.8 737.5) scale(.77 1)">0.8</text>
<text class="ax" text-anchor="middle" transform="translate(672.9 737.5) scale(.77 1)">1</text>
<text class="ax" text-anchor="middle" transform="translate(691.9 737.5) scale(.77 1)">2</text>
<text class="ax" text-anchor="middle" transform="translate(712.3 737.5) scale(.77 1)">4</text>
<text class="ax" text-anchor="middle" transform="translate(721.3 737.5) scale(.77 1)">6</text>
<text class="ax" text-anchor="middle" transform="translate(730.0 737.5) scale(.77 1)">8</text>
<text class="ax" text-anchor="middle" transform="translate(737.6 737.5) scale(.77 1)">10</text>
<text class="ax" text-anchor="middle" transform="translate(754.6 737.5) scale(.77 1)">20</text>
<text class="ax" text-anchor="middle" transform="translate(766.6 737.5) scale(.77 1)">30</text>
<text class="ax" style="font-size:5.8px" transform="translate(547.1 602.3) scale(.98 1)">dB</text>
<text class="ax" style="font-size:6px" transform="translate(739.5 726.3) scale(.92 1)">MHz</text>
<path d="M542.6 717.8 C543.5 717.6 546.2 717.1 548.2 716.1 C550.2 715.2 552.5 713.4 555.0 711.9 C557.4 710.4 560.7 708.2 563.5 706.8 C566.2 705.5 569.8 704.0 571.9 703.4 C574.1 702.9 575.8 702.9 577.0 703.4 C578.3 704.0 578.8 704.9 579.6 706.8 C580.3 708.7 581.1 713.1 581.8 715.3 C582.5 717.5 583.8 720.7 583.8 720.7 C583.8 720.7 585.6 716.9 586.4 713.6 C587.2 710.3 588.1 704.4 588.9 700.0 C589.7 695.7 590.5 690.8 591.5 686.4 C592.4 682.1 593.6 676.9 594.9 672.9 C596.1 668.8 597.7 664.2 599.1 661.0 C600.5 657.7 602.0 655.1 603.3 652.5 C604.7 649.9 606.1 647.2 607.6 644.9 C609.1 642.6 611.1 640.1 612.7 638.1 C614.3 636.1 616.1 634.1 617.8 632.5 C619.4 630.8 621.0 629.3 622.9 627.9 C624.8 626.5 627.5 624.6 629.7 623.6 C631.8 622.6 634.0 622.1 636.4 621.6 C638.9 621.1 642.2 620.9 644.9 620.2 C647.6 619.6 650.9 618.4 653.4 617.7 C655.9 617.0 658.1 616.7 660.5 616.0 C662.8 615.3 668.1 613.5 668.1 613.5 C668.1 613.5 668.3 619.8 668.6 621.9 C669.0 624.1 670.3 627.0 670.3 627.0 C670.3 627.0 673.5 626.0 675.8 625.7 C678.0 625.4 681.5 624.9 684.2 625.0 C687.0 625.1 689.7 625.4 692.7 626.2 C695.7 627.0 699.9 628.7 702.9 630.1 C705.9 631.5 708.4 632.9 711.4 634.7 C714.4 636.5 718.6 639.2 721.6 641.5 C724.6 643.8 727.6 646.8 730.1 649.1 C732.5 651.4 734.7 653.7 736.9 655.9 C739.0 658.1 741.5 660.2 743.7 662.7 C745.8 665.1 748.3 668.5 750.4 671.2 C752.6 673.9 755.3 677.3 757.2 679.7 C759.1 682.0 761.0 684.1 762.3 685.6 C763.7 687.1 765.2 688.4 765.7 689.0" stroke="#15110f" stroke-width="1.35" fill="none" stroke-linejoin="round"/>
<path d="M542.6 723.8 C543.3 723.5 546.7 722.2 548.2 721.2 C549.7 720.3 553.5 717.3 555.0 716.1 C556.4 715.0 558.6 713.0 560.1 711.9 C561.5 710.8 565.2 707.8 566.9 706.8 C568.5 705.8 572.3 704.0 573.6 703.4 C575.0 702.8 577.9 702.1 577.9 702.1 C577.9 702.1 579.5 705.0 580.1 706.8 C580.6 708.6 581.9 715.4 582.5 717.0 C583.0 718.6 584.7 720.4 584.7 720.4 C584.7 720.4 586.6 712.9 587.2 710.2 C587.8 707.6 589.2 701.9 589.8 698.3 C590.4 694.8 591.7 684.2 592.3 680.5 C592.9 676.8 594.0 669.9 594.9 667.8 C595.7 665.6 598.1 663.6 599.1 662.7 C600.1 661.8 602.4 661.0 603.3 660.1 C604.3 659.3 605.9 657.0 606.7 655.9 C607.6 654.8 609.3 652.1 610.1 650.8 C611.0 649.5 612.7 646.4 613.5 644.9 C614.3 643.3 616.0 639.6 616.9 638.1 C617.8 636.5 620.0 633.5 621.2 632.1 C622.3 630.8 624.8 628.0 626.3 627.0 C627.7 626.1 631.4 624.5 633.0 624.0 C634.7 623.5 638.2 623.2 639.8 623.1 C641.5 623.0 645.0 623.0 646.6 623.1 C648.3 623.3 652.0 624.0 653.4 624.5 C654.9 625.0 657.3 626.3 658.8 627.0 C660.2 627.8 663.9 629.6 665.6 630.4 C667.2 631.2 670.5 632.9 672.4 633.8 C674.2 634.7 679.0 637.1 680.9 638.1 C682.7 639.1 686.0 641.3 687.6 642.3 C689.3 643.3 692.6 645.3 694.4 646.6 C696.3 647.8 700.9 651.2 702.9 652.5 C705.0 653.8 709.4 656.3 711.4 657.6 C713.4 658.9 718.1 662.1 719.9 663.5 C721.7 665.0 725.1 668.0 726.7 669.5 C728.3 670.9 731.8 674.0 733.5 675.4 C735.1 676.8 738.6 679.9 740.3 681.4 C741.9 682.8 745.4 685.9 747.0 687.3 C748.7 688.7 752.2 691.9 753.8 693.2 C755.5 694.6 759.5 697.9 760.6 698.7 C761.7 699.5 762.9 699.9 763.2 700.0" stroke="#15110f" stroke-width="1.6" fill="none" stroke-dasharray="1.4 2.2" stroke-linejoin="round"/>
</g>
<text class="tt" x="549.0" y="754.6">ACF321C600/900/1200/1600--</text>
<text class="hd" x="274.3" y="12.5">(</text>
<text class="hd" x="277.9" y="13" style="font-size:14.1px" textLength="55.6" lengthAdjust="spacing">测试依据</text>
<text class="hd" x="342.2" y="12.5" textLength="69.3" lengthAdjust="spacingAndGlyphs">IEC/CISPR</text>
<text class="hd" x="416.5" y="12.5" textLength="28.6" lengthAdjust="spacingAndGlyphs">***7</text>
<text class="hd" x="451.2" y="12.5" textLength="15.2" lengthAdjust="spacingAndGlyphs">50</text>
<text class="hd" x="472.4" y="12.5" textLength="38" lengthAdjust="spacingAndGlyphs">Ohm)</text>
<rect x="317" y="791" width="78" height="1" fill="#000"/>
<rect x="317" y="827" width="10" height="1" fill="#000"/>
<rect x="334" y="827" width="6" height="1" fill="#000"/>
<rect x="347" y="827" width="6" height="1" fill="#000"/>
<rect x="360" y="827" width="6" height="1" fill="#000"/>
<rect x="372" y="827" width="6" height="1" fill="#000"/>
<rect x="385" y="827" width="10" height="1" fill="#000"/>
<text class="lg" style="font-size:16px" x="418.2 429.3" y="796">CM</text>
<text class="lg" style="font-size:14.7px" x="450.3" y="796">共模</text>
<text class="lg" style="font-size:16px" x="418.2 429.3" y="833">DM</text>
<text class="lg" style="font-size:14.7px" x="450.3" y="833">差模</text>
<path d="M9 827.5H14.5V839" stroke="#a6a6a6" stroke-width="1" fill="none"/>
<path d="M734.5 839V827.5H758" stroke="#a6a6a6" stroke-width="1" fill="none"/>
</svg></body></html>
